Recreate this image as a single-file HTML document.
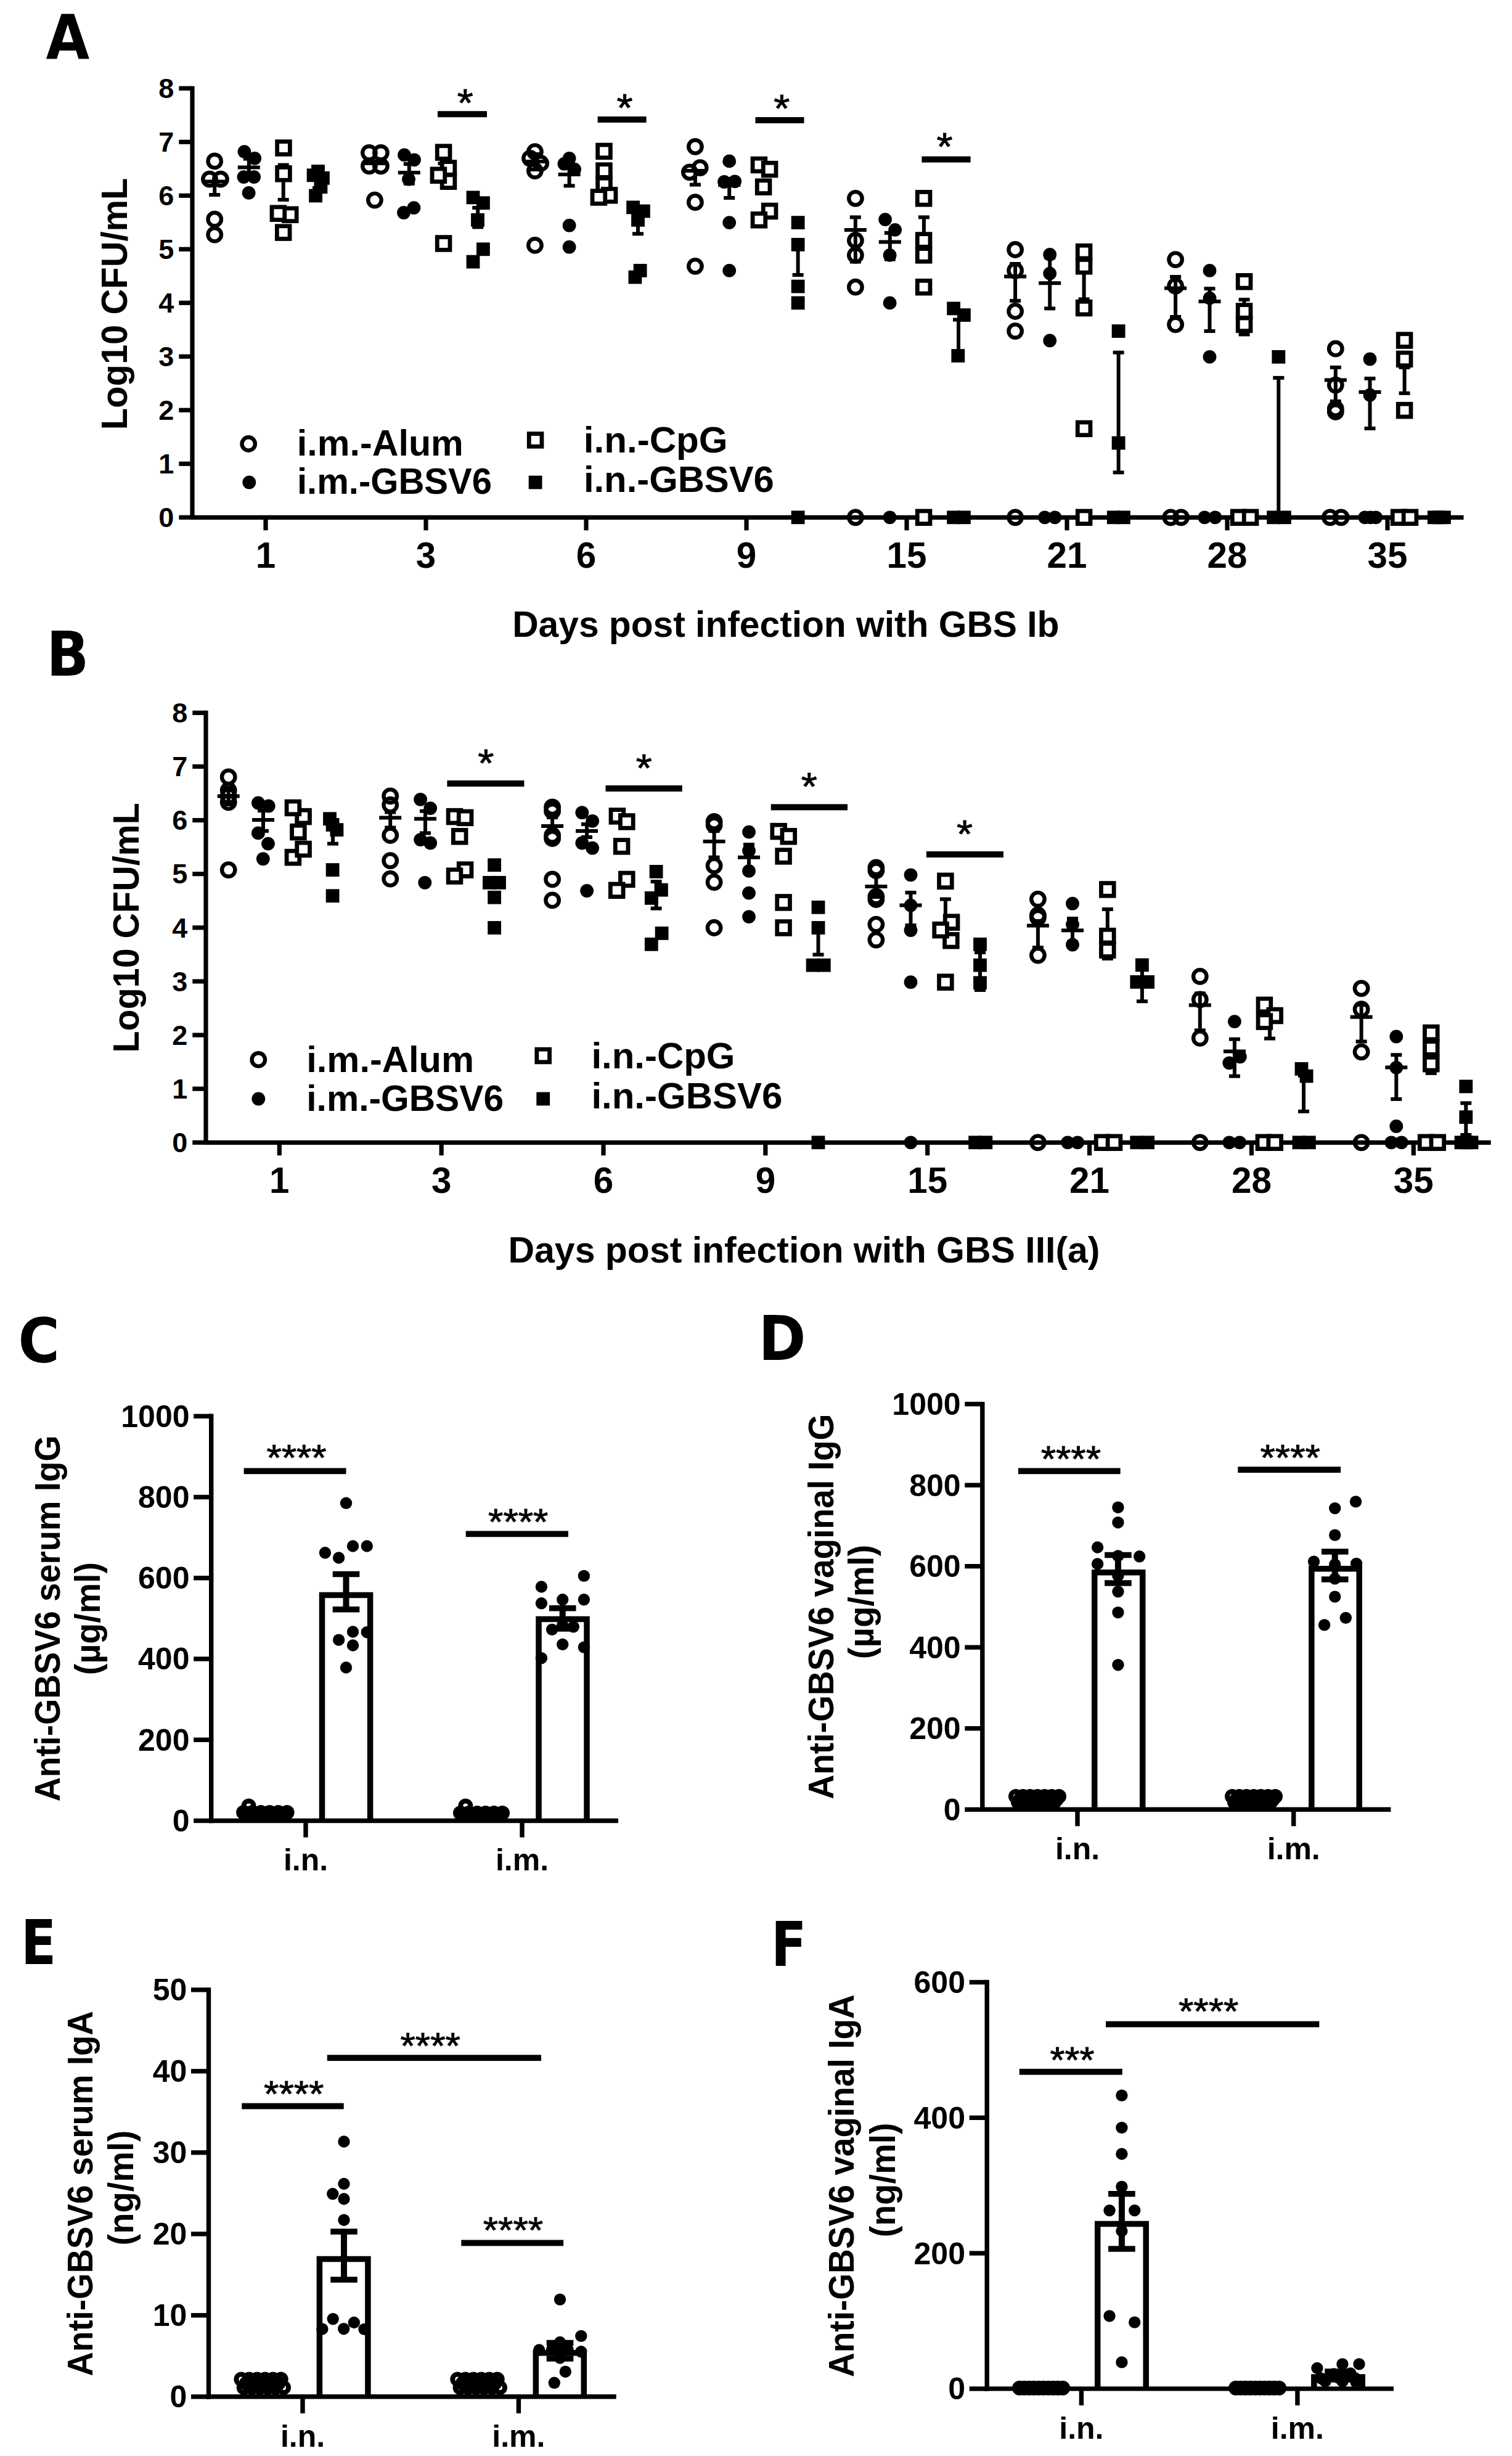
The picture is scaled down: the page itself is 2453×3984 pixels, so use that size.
<!DOCTYPE html>
<html lang="en"><head><meta charset="utf-8"><title>Figure</title>
<style>html,body{margin:0;padding:0;background:#fff}svg text{fill:#000}</style></head>
<body>
<svg width="2453" height="3984" viewBox="0 0 2453 3984" style="display:block">
<rect x="0" y="0" width="2453" height="3984" fill="#fff"/>
<line x1="312.00" y1="139.70" x2="312.00" y2="842.90" stroke="#000" stroke-width="7.2" />
<line x1="308.40" y1="839.30" x2="2374.50" y2="839.30" stroke="#000" stroke-width="7.2" />
<line x1="290.30" y1="839.30" x2="312.00" y2="839.30" stroke="#000" stroke-width="7.2" />
<text x="282.40" y="855.10" font-size="45.00" text-anchor="end" font-family="Liberation Sans, Arial, Helvetica, sans-serif" font-weight="bold" >0</text>
<line x1="290.30" y1="752.30" x2="312.00" y2="752.30" stroke="#000" stroke-width="7.2" />
<text x="282.40" y="768.10" font-size="45.00" text-anchor="end" font-family="Liberation Sans, Arial, Helvetica, sans-serif" font-weight="bold" >1</text>
<line x1="290.30" y1="665.30" x2="312.00" y2="665.30" stroke="#000" stroke-width="7.2" />
<text x="282.40" y="681.10" font-size="45.00" text-anchor="end" font-family="Liberation Sans, Arial, Helvetica, sans-serif" font-weight="bold" >2</text>
<line x1="290.30" y1="578.30" x2="312.00" y2="578.30" stroke="#000" stroke-width="7.2" />
<text x="282.40" y="594.10" font-size="45.00" text-anchor="end" font-family="Liberation Sans, Arial, Helvetica, sans-serif" font-weight="bold" >3</text>
<line x1="290.30" y1="491.30" x2="312.00" y2="491.30" stroke="#000" stroke-width="7.2" />
<text x="282.40" y="507.10" font-size="45.00" text-anchor="end" font-family="Liberation Sans, Arial, Helvetica, sans-serif" font-weight="bold" >4</text>
<line x1="290.30" y1="404.30" x2="312.00" y2="404.30" stroke="#000" stroke-width="7.2" />
<text x="282.40" y="420.10" font-size="45.00" text-anchor="end" font-family="Liberation Sans, Arial, Helvetica, sans-serif" font-weight="bold" >5</text>
<line x1="290.30" y1="317.30" x2="312.00" y2="317.30" stroke="#000" stroke-width="7.2" />
<text x="282.40" y="333.10" font-size="45.00" text-anchor="end" font-family="Liberation Sans, Arial, Helvetica, sans-serif" font-weight="bold" >6</text>
<line x1="290.30" y1="230.30" x2="312.00" y2="230.30" stroke="#000" stroke-width="7.2" />
<text x="282.40" y="246.10" font-size="45.00" text-anchor="end" font-family="Liberation Sans, Arial, Helvetica, sans-serif" font-weight="bold" >7</text>
<line x1="290.30" y1="143.30" x2="312.00" y2="143.30" stroke="#000" stroke-width="7.2" />
<text x="282.40" y="159.10" font-size="45.00" text-anchor="end" font-family="Liberation Sans, Arial, Helvetica, sans-serif" font-weight="bold" >8</text>
<line x1="431.00" y1="839.30" x2="431.00" y2="860.30" stroke="#000" stroke-width="7.2" />
<text x="431.00" y="921.20" font-size="58.30" text-anchor="middle" font-family="Liberation Sans, Arial, Helvetica, sans-serif" font-weight="bold" >1</text>
<line x1="691.00" y1="839.30" x2="691.00" y2="860.30" stroke="#000" stroke-width="7.2" />
<text x="691.00" y="921.20" font-size="58.30" text-anchor="middle" font-family="Liberation Sans, Arial, Helvetica, sans-serif" font-weight="bold" >3</text>
<line x1="951.00" y1="839.30" x2="951.00" y2="860.30" stroke="#000" stroke-width="7.2" />
<text x="951.00" y="921.20" font-size="58.30" text-anchor="middle" font-family="Liberation Sans, Arial, Helvetica, sans-serif" font-weight="bold" >6</text>
<line x1="1211.00" y1="839.30" x2="1211.00" y2="860.30" stroke="#000" stroke-width="7.2" />
<text x="1211.00" y="921.20" font-size="58.30" text-anchor="middle" font-family="Liberation Sans, Arial, Helvetica, sans-serif" font-weight="bold" >9</text>
<line x1="1471.00" y1="839.30" x2="1471.00" y2="860.30" stroke="#000" stroke-width="7.2" />
<text x="1471.00" y="921.20" font-size="58.30" text-anchor="middle" font-family="Liberation Sans, Arial, Helvetica, sans-serif" font-weight="bold" >15</text>
<line x1="1731.00" y1="839.30" x2="1731.00" y2="860.30" stroke="#000" stroke-width="7.2" />
<text x="1731.00" y="921.20" font-size="58.30" text-anchor="middle" font-family="Liberation Sans, Arial, Helvetica, sans-serif" font-weight="bold" >21</text>
<line x1="1991.00" y1="839.30" x2="1991.00" y2="860.30" stroke="#000" stroke-width="7.2" />
<text x="1991.00" y="921.20" font-size="58.30" text-anchor="middle" font-family="Liberation Sans, Arial, Helvetica, sans-serif" font-weight="bold" >28</text>
<line x1="2251.00" y1="839.30" x2="2251.00" y2="860.30" stroke="#000" stroke-width="7.2" />
<text x="2251.00" y="921.20" font-size="58.30" text-anchor="middle" font-family="Liberation Sans, Arial, Helvetica, sans-serif" font-weight="bold" >35</text>
<text transform="translate(205.70,697.27) rotate(-90)" x="0" y="0" font-size="58.50" textLength="408.75" lengthAdjust="spacingAndGlyphs" font-family="Liberation Sans, Arial, Helvetica, sans-serif" font-weight="bold">Log10 CFU/mL</text>
<text x="831.18" y="1033.20" font-size="58.80" textLength="887.32" lengthAdjust="spacingAndGlyphs" font-family="Liberation Sans, Arial, Helvetica, sans-serif" font-weight="bold" >Days post infection with GBS Ib</text>
<line x1="348.20" y1="294.50" x2="348.20" y2="316.00" stroke="#000" stroke-width="6" />
<line x1="339.20" y1="316.00" x2="357.20" y2="316.00" stroke="#000" stroke-width="6" />
<line x1="330.20" y1="294.50" x2="366.20" y2="294.50" stroke="#000" stroke-width="6" />
<line x1="403.80" y1="257.60" x2="403.80" y2="285.00" stroke="#000" stroke-width="6" />
<line x1="394.80" y1="257.60" x2="412.80" y2="257.60" stroke="#000" stroke-width="6" />
<line x1="394.80" y1="285.00" x2="412.80" y2="285.00" stroke="#000" stroke-width="6" />
<line x1="385.80" y1="271.60" x2="421.80" y2="271.60" stroke="#000" stroke-width="6" />
<line x1="459.70" y1="267.60" x2="459.70" y2="324.00" stroke="#000" stroke-width="6" />
<line x1="450.70" y1="267.60" x2="468.70" y2="267.60" stroke="#000" stroke-width="6" />
<line x1="450.70" y1="324.00" x2="468.70" y2="324.00" stroke="#000" stroke-width="6" />
<line x1="516.00" y1="285.00" x2="516.00" y2="305.00" stroke="#000" stroke-width="6" />
<line x1="507.00" y1="285.00" x2="525.00" y2="285.00" stroke="#000" stroke-width="6" />
<line x1="507.00" y1="305.00" x2="525.00" y2="305.00" stroke="#000" stroke-width="6" />
<line x1="589.90" y1="265.00" x2="625.90" y2="265.00" stroke="#000" stroke-width="6" />
<line x1="663.80" y1="266.00" x2="663.80" y2="297.80" stroke="#000" stroke-width="6" />
<line x1="654.80" y1="266.00" x2="672.80" y2="266.00" stroke="#000" stroke-width="6" />
<line x1="654.80" y1="297.80" x2="672.80" y2="297.80" stroke="#000" stroke-width="6" />
<line x1="645.80" y1="280.00" x2="681.80" y2="280.00" stroke="#000" stroke-width="6" />
<line x1="719.60" y1="265.00" x2="719.60" y2="295.00" stroke="#000" stroke-width="6" />
<line x1="710.60" y1="265.00" x2="728.60" y2="265.00" stroke="#000" stroke-width="6" />
<line x1="710.60" y1="295.00" x2="728.60" y2="295.00" stroke="#000" stroke-width="6" />
<line x1="775.20" y1="337.00" x2="775.20" y2="368.40" stroke="#000" stroke-width="6" />
<line x1="766.20" y1="337.00" x2="784.20" y2="337.00" stroke="#000" stroke-width="6" />
<line x1="766.20" y1="368.40" x2="784.20" y2="368.40" stroke="#000" stroke-width="6" />
<line x1="867.90" y1="250.00" x2="867.90" y2="275.00" stroke="#000" stroke-width="6" />
<line x1="858.90" y1="250.00" x2="876.90" y2="250.00" stroke="#000" stroke-width="6" />
<line x1="858.90" y1="275.00" x2="876.90" y2="275.00" stroke="#000" stroke-width="6" />
<line x1="849.90" y1="262.00" x2="885.90" y2="262.00" stroke="#000" stroke-width="6" />
<line x1="923.60" y1="264.00" x2="923.60" y2="301.40" stroke="#000" stroke-width="6" />
<line x1="914.60" y1="264.00" x2="932.60" y2="264.00" stroke="#000" stroke-width="6" />
<line x1="914.60" y1="301.40" x2="932.60" y2="301.40" stroke="#000" stroke-width="6" />
<line x1="905.60" y1="282.90" x2="941.60" y2="282.90" stroke="#000" stroke-width="6" />
<line x1="980.00" y1="275.00" x2="980.00" y2="305.00" stroke="#000" stroke-width="6" />
<line x1="971.00" y1="275.00" x2="989.00" y2="275.00" stroke="#000" stroke-width="6" />
<line x1="971.00" y1="305.00" x2="989.00" y2="305.00" stroke="#000" stroke-width="6" />
<line x1="1035.00" y1="336.00" x2="1035.00" y2="379.30" stroke="#000" stroke-width="6" />
<line x1="1026.00" y1="336.00" x2="1044.00" y2="336.00" stroke="#000" stroke-width="6" />
<line x1="1026.00" y1="379.30" x2="1044.00" y2="379.30" stroke="#000" stroke-width="6" />
<line x1="1127.90" y1="277.00" x2="1127.90" y2="299.60" stroke="#000" stroke-width="6" />
<line x1="1118.90" y1="299.60" x2="1136.90" y2="299.60" stroke="#000" stroke-width="6" />
<line x1="1109.90" y1="277.00" x2="1145.90" y2="277.00" stroke="#000" stroke-width="6" />
<line x1="1183.20" y1="290.00" x2="1183.20" y2="321.00" stroke="#000" stroke-width="6" />
<line x1="1174.20" y1="290.00" x2="1192.20" y2="290.00" stroke="#000" stroke-width="6" />
<line x1="1174.20" y1="321.00" x2="1192.20" y2="321.00" stroke="#000" stroke-width="6" />
<line x1="1165.20" y1="300.00" x2="1201.20" y2="300.00" stroke="#000" stroke-width="6" />
<line x1="1294.60" y1="397.00" x2="1294.60" y2="446.00" stroke="#000" stroke-width="6" />
<line x1="1285.60" y1="446.00" x2="1303.60" y2="446.00" stroke="#000" stroke-width="6" />
<line x1="1387.80" y1="352.40" x2="1387.80" y2="424.60" stroke="#000" stroke-width="6" />
<line x1="1378.80" y1="352.40" x2="1396.80" y2="352.40" stroke="#000" stroke-width="6" />
<line x1="1378.80" y1="424.60" x2="1396.80" y2="424.60" stroke="#000" stroke-width="6" />
<line x1="1369.80" y1="373.00" x2="1405.80" y2="373.00" stroke="#000" stroke-width="6" />
<line x1="1443.80" y1="377.80" x2="1443.80" y2="420.60" stroke="#000" stroke-width="6" />
<line x1="1434.80" y1="377.80" x2="1452.80" y2="377.80" stroke="#000" stroke-width="6" />
<line x1="1434.80" y1="420.60" x2="1452.80" y2="420.60" stroke="#000" stroke-width="6" />
<line x1="1425.80" y1="392.50" x2="1461.80" y2="392.50" stroke="#000" stroke-width="6" />
<line x1="1498.90" y1="352.40" x2="1498.90" y2="400.00" stroke="#000" stroke-width="6" />
<line x1="1489.90" y1="352.40" x2="1507.90" y2="352.40" stroke="#000" stroke-width="6" />
<line x1="1489.90" y1="400.00" x2="1507.90" y2="400.00" stroke="#000" stroke-width="6" />
<line x1="1555.00" y1="518.60" x2="1555.00" y2="577.00" stroke="#000" stroke-width="6" />
<line x1="1546.00" y1="518.60" x2="1564.00" y2="518.60" stroke="#000" stroke-width="6" />
<line x1="1546.00" y1="577.00" x2="1564.00" y2="577.00" stroke="#000" stroke-width="6" />
<line x1="1647.10" y1="428.00" x2="1647.10" y2="487.90" stroke="#000" stroke-width="6" />
<line x1="1638.10" y1="428.00" x2="1656.10" y2="428.00" stroke="#000" stroke-width="6" />
<line x1="1638.10" y1="487.90" x2="1656.10" y2="487.90" stroke="#000" stroke-width="6" />
<line x1="1629.10" y1="448.60" x2="1665.10" y2="448.60" stroke="#000" stroke-width="6" />
<line x1="1703.20" y1="418.00" x2="1703.20" y2="500.40" stroke="#000" stroke-width="6" />
<line x1="1694.20" y1="418.00" x2="1712.20" y2="418.00" stroke="#000" stroke-width="6" />
<line x1="1694.20" y1="500.40" x2="1712.20" y2="500.40" stroke="#000" stroke-width="6" />
<line x1="1685.20" y1="459.30" x2="1721.20" y2="459.30" stroke="#000" stroke-width="6" />
<line x1="1758.60" y1="440.00" x2="1758.60" y2="485.40" stroke="#000" stroke-width="6" />
<line x1="1749.60" y1="440.00" x2="1767.60" y2="440.00" stroke="#000" stroke-width="6" />
<line x1="1749.60" y1="485.40" x2="1767.60" y2="485.40" stroke="#000" stroke-width="6" />
<line x1="1814.60" y1="571.80" x2="1814.60" y2="766.40" stroke="#000" stroke-width="6" />
<line x1="1805.60" y1="571.80" x2="1823.60" y2="571.80" stroke="#000" stroke-width="6" />
<line x1="1805.60" y1="766.40" x2="1823.60" y2="766.40" stroke="#000" stroke-width="6" />
<line x1="1907.10" y1="449.00" x2="1907.10" y2="514.00" stroke="#000" stroke-width="6" />
<line x1="1898.10" y1="449.00" x2="1916.10" y2="449.00" stroke="#000" stroke-width="6" />
<line x1="1898.10" y1="514.00" x2="1916.10" y2="514.00" stroke="#000" stroke-width="6" />
<line x1="1889.10" y1="467.50" x2="1925.10" y2="467.50" stroke="#000" stroke-width="6" />
<line x1="1962.50" y1="468.20" x2="1962.50" y2="537.10" stroke="#000" stroke-width="6" />
<line x1="1953.50" y1="468.20" x2="1971.50" y2="468.20" stroke="#000" stroke-width="6" />
<line x1="1953.50" y1="537.10" x2="1971.50" y2="537.10" stroke="#000" stroke-width="6" />
<line x1="1944.50" y1="489.00" x2="1980.50" y2="489.00" stroke="#000" stroke-width="6" />
<line x1="2018.60" y1="486.00" x2="2018.60" y2="542.50" stroke="#000" stroke-width="6" />
<line x1="2009.60" y1="486.00" x2="2027.60" y2="486.00" stroke="#000" stroke-width="6" />
<line x1="2009.60" y1="542.50" x2="2027.60" y2="542.50" stroke="#000" stroke-width="6" />
<line x1="2074.30" y1="612.90" x2="2074.30" y2="839.30" stroke="#000" stroke-width="6" />
<line x1="2065.30" y1="612.90" x2="2083.30" y2="612.90" stroke="#000" stroke-width="6" />
<line x1="2166.80" y1="596.00" x2="2166.80" y2="651.00" stroke="#000" stroke-width="6" />
<line x1="2157.80" y1="596.00" x2="2175.80" y2="596.00" stroke="#000" stroke-width="6" />
<line x1="2157.80" y1="651.00" x2="2175.80" y2="651.00" stroke="#000" stroke-width="6" />
<line x1="2148.80" y1="616.40" x2="2184.80" y2="616.40" stroke="#000" stroke-width="6" />
<line x1="2222.50" y1="614.00" x2="2222.50" y2="695.00" stroke="#000" stroke-width="6" />
<line x1="2213.50" y1="614.00" x2="2231.50" y2="614.00" stroke="#000" stroke-width="6" />
<line x1="2213.50" y1="695.00" x2="2231.50" y2="695.00" stroke="#000" stroke-width="6" />
<line x1="2204.50" y1="636.00" x2="2240.50" y2="636.00" stroke="#000" stroke-width="6" />
<line x1="2278.60" y1="596.00" x2="2278.60" y2="637.90" stroke="#000" stroke-width="6" />
<line x1="2269.60" y1="596.00" x2="2287.60" y2="596.00" stroke="#000" stroke-width="6" />
<line x1="2269.60" y1="637.90" x2="2287.60" y2="637.90" stroke="#000" stroke-width="6" />
<circle cx="348.2" cy="261.4" r="10.7" fill="none" stroke="#000" stroke-width="6.4"/>
<circle cx="340.0" cy="290.7" r="10.7" fill="none" stroke="#000" stroke-width="6.4"/>
<circle cx="357.9" cy="290.7" r="10.7" fill="none" stroke="#000" stroke-width="6.4"/>
<circle cx="348.2" cy="355.7" r="10.7" fill="none" stroke="#000" stroke-width="6.4"/>
<circle cx="348.2" cy="380.7" r="10.7" fill="none" stroke="#000" stroke-width="6.4"/>
<circle cx="598.9" cy="247.9" r="10.7" fill="none" stroke="#000" stroke-width="6.4"/>
<circle cx="617.9" cy="247.9" r="10.7" fill="none" stroke="#000" stroke-width="6.4"/>
<circle cx="598.9" cy="269.3" r="10.7" fill="none" stroke="#000" stroke-width="6.4"/>
<circle cx="617.9" cy="269.3" r="10.7" fill="none" stroke="#000" stroke-width="6.4"/>
<circle cx="607.9" cy="324.6" r="10.7" fill="none" stroke="#000" stroke-width="6.4"/>
<circle cx="867.9" cy="246.1" r="10.7" fill="none" stroke="#000" stroke-width="6.4"/>
<circle cx="860.0" cy="256.8" r="10.7" fill="none" stroke="#000" stroke-width="6.4"/>
<circle cx="877.1" cy="265.0" r="10.7" fill="none" stroke="#000" stroke-width="6.4"/>
<circle cx="867.9" cy="277.1" r="10.7" fill="none" stroke="#000" stroke-width="6.4"/>
<circle cx="867.9" cy="397.9" r="10.7" fill="none" stroke="#000" stroke-width="6.4"/>
<circle cx="1127.9" cy="237.9" r="10.7" fill="none" stroke="#000" stroke-width="6.4"/>
<circle cx="1118.9" cy="279.3" r="10.7" fill="none" stroke="#000" stroke-width="6.4"/>
<circle cx="1135.7" cy="272.1" r="10.7" fill="none" stroke="#000" stroke-width="6.4"/>
<circle cx="1127.9" cy="328.2" r="10.7" fill="none" stroke="#000" stroke-width="6.4"/>
<circle cx="1127.9" cy="431.8" r="10.7" fill="none" stroke="#000" stroke-width="6.4"/>
<circle cx="1387.9" cy="321.8" r="10.7" fill="none" stroke="#000" stroke-width="6.4"/>
<circle cx="1387.9" cy="390.0" r="10.7" fill="none" stroke="#000" stroke-width="6.4"/>
<circle cx="1387.9" cy="413.9" r="10.7" fill="none" stroke="#000" stroke-width="6.4"/>
<circle cx="1387.9" cy="465.7" r="10.7" fill="none" stroke="#000" stroke-width="6.4"/>
<circle cx="1387.9" cy="839.3" r="10.7" fill="none" stroke="#000" stroke-width="6.4"/>
<circle cx="1647.1" cy="405.0" r="10.7" fill="none" stroke="#000" stroke-width="6.4"/>
<circle cx="1647.1" cy="438.9" r="10.7" fill="none" stroke="#000" stroke-width="6.4"/>
<circle cx="1647.1" cy="505.0" r="10.7" fill="none" stroke="#000" stroke-width="6.4"/>
<circle cx="1647.1" cy="537.1" r="10.7" fill="none" stroke="#000" stroke-width="6.4"/>
<circle cx="1647.1" cy="839.3" r="10.7" fill="none" stroke="#000" stroke-width="6.4"/>
<circle cx="1907.1" cy="421.1" r="10.7" fill="none" stroke="#000" stroke-width="6.4"/>
<circle cx="1907.1" cy="463.9" r="10.7" fill="none" stroke="#000" stroke-width="6.4"/>
<circle cx="1907.1" cy="526.4" r="10.7" fill="none" stroke="#000" stroke-width="6.4"/>
<circle cx="1899.3" cy="839.3" r="10.7" fill="none" stroke="#000" stroke-width="6.4"/>
<circle cx="1916.1" cy="839.3" r="10.7" fill="none" stroke="#000" stroke-width="6.4"/>
<circle cx="2166.8" cy="565.7" r="10.7" fill="none" stroke="#000" stroke-width="6.4"/>
<circle cx="2166.8" cy="624.6" r="10.7" fill="none" stroke="#000" stroke-width="6.4"/>
<circle cx="2166.8" cy="663.0" r="10.7" fill="none" stroke="#000" stroke-width="6.4"/>
<circle cx="2166.8" cy="668.0" r="10.7" fill="none" stroke="#000" stroke-width="6.4"/>
<circle cx="2157.9" cy="839.3" r="10.7" fill="none" stroke="#000" stroke-width="6.4"/>
<circle cx="2175.7" cy="839.3" r="10.7" fill="none" stroke="#000" stroke-width="6.4"/>
<circle cx="396.4" cy="246.1" r="10.9" fill="#000"/>
<circle cx="413.2" cy="256.8" r="10.9" fill="#000"/>
<circle cx="395.4" cy="287.1" r="10.9" fill="#000"/>
<circle cx="412.1" cy="287.1" r="10.9" fill="#000"/>
<circle cx="403.6" cy="312.9" r="10.9" fill="#000"/>
<circle cx="656.0" cy="251.4" r="10.9" fill="#000"/>
<circle cx="672.0" cy="259.3" r="10.9" fill="#000"/>
<circle cx="663.0" cy="290.7" r="10.9" fill="#000"/>
<circle cx="655.0" cy="345.0" r="10.9" fill="#000"/>
<circle cx="671.4" cy="337.1" r="10.9" fill="#000"/>
<circle cx="923.6" cy="256.8" r="10.9" fill="#000"/>
<circle cx="915.4" cy="265.7" r="10.9" fill="#000"/>
<circle cx="932.1" cy="274.6" r="10.9" fill="#000"/>
<circle cx="923.6" cy="365.7" r="10.9" fill="#000"/>
<circle cx="923.6" cy="400.7" r="10.9" fill="#000"/>
<circle cx="1183.2" cy="261.4" r="10.9" fill="#000"/>
<circle cx="1175.0" cy="295.0" r="10.9" fill="#000"/>
<circle cx="1192.1" cy="294.3" r="10.9" fill="#000"/>
<circle cx="1183.2" cy="361.1" r="10.9" fill="#000"/>
<circle cx="1183.2" cy="438.9" r="10.9" fill="#000"/>
<circle cx="1436.1" cy="356.1" r="10.9" fill="#000"/>
<circle cx="1452.1" cy="372.9" r="10.9" fill="#000"/>
<circle cx="1443.6" cy="413.9" r="10.9" fill="#000"/>
<circle cx="1443.6" cy="491.4" r="10.9" fill="#000"/>
<circle cx="1443.6" cy="839.3" r="10.9" fill="#000"/>
<circle cx="1703.2" cy="412.9" r="10.9" fill="#000"/>
<circle cx="1703.2" cy="443.6" r="10.9" fill="#000"/>
<circle cx="1703.2" cy="552.5" r="10.9" fill="#000"/>
<circle cx="1695.0" cy="839.3" r="10.9" fill="#000"/>
<circle cx="1711.4" cy="839.3" r="10.9" fill="#000"/>
<circle cx="1962.5" cy="438.9" r="10.9" fill="#000"/>
<circle cx="1962.5" cy="483.6" r="10.9" fill="#000"/>
<circle cx="1962.5" cy="578.9" r="10.9" fill="#000"/>
<circle cx="1954.3" cy="839.3" r="10.9" fill="#000"/>
<circle cx="1971.4" cy="839.3" r="10.9" fill="#000"/>
<circle cx="2222.5" cy="582.5" r="10.9" fill="#000"/>
<circle cx="2222.5" cy="640.7" r="10.9" fill="#000"/>
<circle cx="2214.3" cy="839.3" r="10.9" fill="#000"/>
<circle cx="2223.2" cy="839.3" r="10.9" fill="#000"/>
<circle cx="2232.1" cy="839.3" r="10.9" fill="#000"/>
<rect x="449.65" y="229.65" width="20.7" height="20.7" fill="#fff" stroke="#000" stroke-width="6.8"/>
<rect x="449.65" y="271.45" width="20.7" height="20.7" fill="#fff" stroke="#000" stroke-width="6.8"/>
<rect x="460.45" y="337.95" width="20.7" height="20.7" fill="#fff" stroke="#000" stroke-width="6.8"/>
<rect x="441.05" y="335.85" width="20.7" height="20.7" fill="#fff" stroke="#000" stroke-width="6.8"/>
<rect x="449.35" y="366.75" width="20.7" height="20.7" fill="#fff" stroke="#000" stroke-width="6.8"/>
<rect x="709.25" y="236.75" width="20.7" height="20.7" fill="#fff" stroke="#000" stroke-width="6.8"/>
<rect x="717.15" y="262.55" width="20.7" height="20.7" fill="#fff" stroke="#000" stroke-width="6.8"/>
<rect x="717.15" y="283.95" width="20.7" height="20.7" fill="#fff" stroke="#000" stroke-width="6.8"/>
<rect x="701.05" y="273.95" width="20.7" height="20.7" fill="#fff" stroke="#000" stroke-width="6.8"/>
<rect x="709.25" y="384.65" width="20.7" height="20.7" fill="#fff" stroke="#000" stroke-width="6.8"/>
<rect x="969.65" y="235.05" width="20.7" height="20.7" fill="#fff" stroke="#000" stroke-width="6.8"/>
<rect x="969.65" y="266.75" width="20.7" height="20.7" fill="#fff" stroke="#000" stroke-width="6.8"/>
<rect x="969.65" y="289.25" width="20.7" height="20.7" fill="#fff" stroke="#000" stroke-width="6.8"/>
<rect x="978.25" y="306.45" width="20.7" height="20.7" fill="#fff" stroke="#000" stroke-width="6.8"/>
<rect x="961.05" y="309.65" width="20.7" height="20.7" fill="#fff" stroke="#000" stroke-width="6.8"/>
<rect x="1221.05" y="257.15" width="20.7" height="20.7" fill="#fff" stroke="#000" stroke-width="6.8"/>
<rect x="1238.25" y="264.25" width="20.7" height="20.7" fill="#fff" stroke="#000" stroke-width="6.8"/>
<rect x="1228.25" y="292.85" width="20.7" height="20.7" fill="#fff" stroke="#000" stroke-width="6.8"/>
<rect x="1238.25" y="332.15" width="20.7" height="20.7" fill="#fff" stroke="#000" stroke-width="6.8"/>
<rect x="1221.05" y="346.45" width="20.7" height="20.7" fill="#fff" stroke="#000" stroke-width="6.8"/>
<rect x="1488.25" y="311.45" width="20.7" height="20.7" fill="#fff" stroke="#000" stroke-width="6.8"/>
<rect x="1488.25" y="379.65" width="20.7" height="20.7" fill="#fff" stroke="#000" stroke-width="6.8"/>
<rect x="1488.25" y="403.55" width="20.7" height="20.7" fill="#fff" stroke="#000" stroke-width="6.8"/>
<rect x="1488.25" y="455.35" width="20.7" height="20.7" fill="#fff" stroke="#000" stroke-width="6.8"/>
<rect x="1488.25" y="828.95" width="20.7" height="20.7" fill="#fff" stroke="#000" stroke-width="6.8"/>
<rect x="1748.25" y="398.25" width="20.7" height="20.7" fill="#fff" stroke="#000" stroke-width="6.8"/>
<rect x="1748.25" y="421.45" width="20.7" height="20.7" fill="#fff" stroke="#000" stroke-width="6.8"/>
<rect x="1748.25" y="489.25" width="20.7" height="20.7" fill="#fff" stroke="#000" stroke-width="6.8"/>
<rect x="1748.25" y="685.05" width="20.7" height="20.7" fill="#fff" stroke="#000" stroke-width="6.8"/>
<rect x="1748.25" y="828.95" width="20.7" height="20.7" fill="#fff" stroke="#000" stroke-width="6.8"/>
<rect x="2008.25" y="446.45" width="20.7" height="20.7" fill="#fff" stroke="#000" stroke-width="6.8"/>
<rect x="2008.25" y="494.65" width="20.7" height="20.7" fill="#fff" stroke="#000" stroke-width="6.8"/>
<rect x="2008.25" y="516.05" width="20.7" height="20.7" fill="#fff" stroke="#000" stroke-width="6.8"/>
<rect x="1999.25" y="828.95" width="20.7" height="20.7" fill="#fff" stroke="#000" stroke-width="6.8"/>
<rect x="2018.25" y="828.95" width="20.7" height="20.7" fill="#fff" stroke="#000" stroke-width="6.8"/>
<rect x="2268.25" y="541.75" width="20.7" height="20.7" fill="#fff" stroke="#000" stroke-width="6.8"/>
<rect x="2268.25" y="572.15" width="20.7" height="20.7" fill="#fff" stroke="#000" stroke-width="6.8"/>
<rect x="2268.25" y="655.35" width="20.7" height="20.7" fill="#fff" stroke="#000" stroke-width="6.8"/>
<rect x="2259.25" y="828.95" width="20.7" height="20.7" fill="#fff" stroke="#000" stroke-width="6.8"/>
<rect x="2277.15" y="828.95" width="20.7" height="20.7" fill="#fff" stroke="#000" stroke-width="6.8"/>
<rect x="497.7" y="273.4" width="21.8" height="21.8" fill="#000"/>
<rect x="513.0" y="278.0" width="21.8" height="21.8" fill="#000"/>
<rect x="505.1" y="267.1" width="21.8" height="21.8" fill="#000"/>
<rect x="509.5" y="292.3" width="21.8" height="21.8" fill="#000"/>
<rect x="501.2" y="306.6" width="21.8" height="21.8" fill="#000"/>
<rect x="756.6" y="309.5" width="21.8" height="21.8" fill="#000"/>
<rect x="773.0" y="318.4" width="21.8" height="21.8" fill="#000"/>
<rect x="764.1" y="345.9" width="21.8" height="21.8" fill="#000"/>
<rect x="773.0" y="393.4" width="21.8" height="21.8" fill="#000"/>
<rect x="756.6" y="413.7" width="21.8" height="21.8" fill="#000"/>
<rect x="1016.2" y="325.5" width="21.8" height="21.8" fill="#000"/>
<rect x="1033.0" y="331.6" width="21.8" height="21.8" fill="#000"/>
<rect x="1024.1" y="345.9" width="21.8" height="21.8" fill="#000"/>
<rect x="1027.7" y="428.0" width="21.8" height="21.8" fill="#000"/>
<rect x="1019.5" y="438.7" width="21.8" height="21.8" fill="#000"/>
<rect x="1283.7" y="350.2" width="21.8" height="21.8" fill="#000"/>
<rect x="1283.7" y="385.9" width="21.8" height="21.8" fill="#000"/>
<rect x="1283.7" y="453.7" width="21.8" height="21.8" fill="#000"/>
<rect x="1283.7" y="480.5" width="21.8" height="21.8" fill="#000"/>
<rect x="1283.7" y="828.4" width="21.8" height="21.8" fill="#000"/>
<rect x="1536.2" y="489.5" width="21.8" height="21.8" fill="#000"/>
<rect x="1553.0" y="500.2" width="21.8" height="21.8" fill="#000"/>
<rect x="1543.4" y="566.2" width="21.8" height="21.8" fill="#000"/>
<rect x="1536.2" y="828.4" width="21.8" height="21.8" fill="#000"/>
<rect x="1553.0" y="828.4" width="21.8" height="21.8" fill="#000"/>
<rect x="1803.7" y="526.2" width="21.8" height="21.8" fill="#000"/>
<rect x="1803.7" y="707.7" width="21.8" height="21.8" fill="#000"/>
<rect x="1795.9" y="828.4" width="21.8" height="21.8" fill="#000"/>
<rect x="1812.0" y="828.4" width="21.8" height="21.8" fill="#000"/>
<rect x="2063.4" y="568.0" width="21.8" height="21.8" fill="#000"/>
<rect x="2055.2" y="828.4" width="21.8" height="21.8" fill="#000"/>
<rect x="2073.0" y="828.4" width="21.8" height="21.8" fill="#000"/>
<rect x="2315.9" y="828.4" width="21.8" height="21.8" fill="#000"/>
<rect x="2332.0" y="828.4" width="21.8" height="21.8" fill="#000"/>
<rect x="2323.9" y="828.4" width="21.8" height="21.8" fill="#000"/>
<rect x="710.00" y="180.20" width="80.00" height="10.00" fill="#000"/>
<text x="741.86" y="188.30" font-size="62.50" textLength="26.02" lengthAdjust="spacingAndGlyphs" font-family="Liberation Sans, Arial, Helvetica, sans-serif" font-weight="normal" stroke="#000" stroke-width="0.9">*</text>
<rect x="969.60" y="188.90" width="79.00" height="10.00" fill="#000"/>
<text x="1000.46" y="196.40" font-size="62.50" textLength="26.02" lengthAdjust="spacingAndGlyphs" font-family="Liberation Sans, Arial, Helvetica, sans-serif" font-weight="normal" stroke="#000" stroke-width="0.9">*</text>
<rect x="1225.50" y="190.00" width="79.00" height="10.00" fill="#000"/>
<text x="1255.26" y="197.40" font-size="62.50" textLength="26.02" lengthAdjust="spacingAndGlyphs" font-family="Liberation Sans, Arial, Helvetica, sans-serif" font-weight="normal" stroke="#000" stroke-width="0.9">*</text>
<rect x="1495.40" y="253.60" width="79.20" height="10.00" fill="#000"/>
<text x="1519.56" y="259.40" font-size="62.50" textLength="26.02" lengthAdjust="spacingAndGlyphs" font-family="Liberation Sans, Arial, Helvetica, sans-serif" font-weight="normal" stroke="#000" stroke-width="0.9">*</text>
<circle cx="403.2" cy="720.0" r="10.7" fill="none" stroke="#000" stroke-width="6.4"/>
<circle cx="404.3" cy="782.5" r="10.9" fill="#000"/>
<rect x="858.25" y="703.55" width="20.7" height="20.7" fill="#fff" stroke="#000" stroke-width="6.8"/>
<rect x="857.7" y="771.6" width="21.8" height="21.8" fill="#000"/>
<text x="481.85" y="739.00" font-size="58.80" textLength="269.94" lengthAdjust="spacingAndGlyphs" font-family="Liberation Sans, Arial, Helvetica, sans-serif" font-weight="bold" >i.m.-Alum</text>
<text x="481.94" y="801.40" font-size="58.80" textLength="316.15" lengthAdjust="spacingAndGlyphs" font-family="Liberation Sans, Arial, Helvetica, sans-serif" font-weight="bold" >i.m.-GBSV6</text>
<text x="946.89" y="733.60" font-size="58.80" textLength="233.71" lengthAdjust="spacingAndGlyphs" font-family="Liberation Sans, Arial, Helvetica, sans-serif" font-weight="bold" >i.n.-CpG</text>
<text x="946.92" y="797.90" font-size="58.80" textLength="308.93" lengthAdjust="spacingAndGlyphs" font-family="Liberation Sans, Arial, Helvetica, sans-serif" font-weight="bold" >i.n.-GBSV6</text>
<text x="74.59" y="95.20" font-size="99.5" textLength="70.72" lengthAdjust="spacingAndGlyphs" font-family="DejaVu Sans Condensed, DejaVu Sans, sans-serif" font-stretch="condensed" font-weight="bold">A</text>
<line x1="334.00" y1="1152.70" x2="334.00" y2="1856.90" stroke="#000" stroke-width="7.2" />
<line x1="330.40" y1="1853.30" x2="2418.70" y2="1853.30" stroke="#000" stroke-width="7.2" />
<line x1="312.30" y1="1853.30" x2="334.00" y2="1853.30" stroke="#000" stroke-width="7.2" />
<text x="304.40" y="1869.10" font-size="45.00" text-anchor="end" font-family="Liberation Sans, Arial, Helvetica, sans-serif" font-weight="bold" >0</text>
<line x1="312.30" y1="1766.17" x2="334.00" y2="1766.17" stroke="#000" stroke-width="7.2" />
<text x="304.40" y="1781.97" font-size="45.00" text-anchor="end" font-family="Liberation Sans, Arial, Helvetica, sans-serif" font-weight="bold" >1</text>
<line x1="312.30" y1="1679.05" x2="334.00" y2="1679.05" stroke="#000" stroke-width="7.2" />
<text x="304.40" y="1694.85" font-size="45.00" text-anchor="end" font-family="Liberation Sans, Arial, Helvetica, sans-serif" font-weight="bold" >2</text>
<line x1="312.30" y1="1591.92" x2="334.00" y2="1591.92" stroke="#000" stroke-width="7.2" />
<text x="304.40" y="1607.72" font-size="45.00" text-anchor="end" font-family="Liberation Sans, Arial, Helvetica, sans-serif" font-weight="bold" >3</text>
<line x1="312.30" y1="1504.80" x2="334.00" y2="1504.80" stroke="#000" stroke-width="7.2" />
<text x="304.40" y="1520.60" font-size="45.00" text-anchor="end" font-family="Liberation Sans, Arial, Helvetica, sans-serif" font-weight="bold" >4</text>
<line x1="312.30" y1="1417.67" x2="334.00" y2="1417.67" stroke="#000" stroke-width="7.2" />
<text x="304.40" y="1433.47" font-size="45.00" text-anchor="end" font-family="Liberation Sans, Arial, Helvetica, sans-serif" font-weight="bold" >5</text>
<line x1="312.30" y1="1330.55" x2="334.00" y2="1330.55" stroke="#000" stroke-width="7.2" />
<text x="304.40" y="1346.35" font-size="45.00" text-anchor="end" font-family="Liberation Sans, Arial, Helvetica, sans-serif" font-weight="bold" >6</text>
<line x1="312.30" y1="1243.42" x2="334.00" y2="1243.42" stroke="#000" stroke-width="7.2" />
<text x="304.40" y="1259.22" font-size="45.00" text-anchor="end" font-family="Liberation Sans, Arial, Helvetica, sans-serif" font-weight="bold" >7</text>
<line x1="312.30" y1="1156.30" x2="334.00" y2="1156.30" stroke="#000" stroke-width="7.2" />
<text x="304.40" y="1172.10" font-size="45.00" text-anchor="end" font-family="Liberation Sans, Arial, Helvetica, sans-serif" font-weight="bold" >8</text>
<line x1="453.30" y1="1853.30" x2="453.30" y2="1874.30" stroke="#000" stroke-width="7.2" />
<text x="453.30" y="1935.20" font-size="58.30" text-anchor="middle" font-family="Liberation Sans, Arial, Helvetica, sans-serif" font-weight="bold" >1</text>
<line x1="716.15" y1="1853.30" x2="716.15" y2="1874.30" stroke="#000" stroke-width="7.2" />
<text x="716.15" y="1935.20" font-size="58.30" text-anchor="middle" font-family="Liberation Sans, Arial, Helvetica, sans-serif" font-weight="bold" >3</text>
<line x1="979.00" y1="1853.30" x2="979.00" y2="1874.30" stroke="#000" stroke-width="7.2" />
<text x="979.00" y="1935.20" font-size="58.30" text-anchor="middle" font-family="Liberation Sans, Arial, Helvetica, sans-serif" font-weight="bold" >6</text>
<line x1="1241.85" y1="1853.30" x2="1241.85" y2="1874.30" stroke="#000" stroke-width="7.2" />
<text x="1241.85" y="1935.20" font-size="58.30" text-anchor="middle" font-family="Liberation Sans, Arial, Helvetica, sans-serif" font-weight="bold" >9</text>
<line x1="1504.70" y1="1853.30" x2="1504.70" y2="1874.30" stroke="#000" stroke-width="7.2" />
<text x="1504.70" y="1935.20" font-size="58.30" text-anchor="middle" font-family="Liberation Sans, Arial, Helvetica, sans-serif" font-weight="bold" >15</text>
<line x1="1767.55" y1="1853.30" x2="1767.55" y2="1874.30" stroke="#000" stroke-width="7.2" />
<text x="1767.55" y="1935.20" font-size="58.30" text-anchor="middle" font-family="Liberation Sans, Arial, Helvetica, sans-serif" font-weight="bold" >21</text>
<line x1="2030.40" y1="1853.30" x2="2030.40" y2="1874.30" stroke="#000" stroke-width="7.2" />
<text x="2030.40" y="1935.20" font-size="58.30" text-anchor="middle" font-family="Liberation Sans, Arial, Helvetica, sans-serif" font-weight="bold" >28</text>
<line x1="2293.25" y1="1853.30" x2="2293.25" y2="1874.30" stroke="#000" stroke-width="7.2" />
<text x="2293.25" y="1935.20" font-size="58.30" text-anchor="middle" font-family="Liberation Sans, Arial, Helvetica, sans-serif" font-weight="bold" >35</text>
<text transform="translate(225.30,1707.53) rotate(-90)" x="0" y="0" font-size="58.50" textLength="405.30" lengthAdjust="spacingAndGlyphs" font-family="Liberation Sans, Arial, Helvetica, sans-serif" font-weight="bold">Log10 CFU/mL</text>
<text x="824.47" y="2047.70" font-size="58.80" textLength="960.06" lengthAdjust="spacingAndGlyphs" font-family="Liberation Sans, Arial, Helvetica, sans-serif" font-weight="bold" >Days post infection with GBS III(a)</text>
<line x1="370.70" y1="1278.00" x2="370.70" y2="1305.00" stroke="#000" stroke-width="6" />
<line x1="361.70" y1="1278.00" x2="379.70" y2="1278.00" stroke="#000" stroke-width="6" />
<line x1="361.70" y1="1305.00" x2="379.70" y2="1305.00" stroke="#000" stroke-width="6" />
<line x1="352.70" y1="1291.40" x2="388.70" y2="1291.40" stroke="#000" stroke-width="6" />
<line x1="427.00" y1="1315.00" x2="427.00" y2="1347.90" stroke="#000" stroke-width="6" />
<line x1="418.00" y1="1315.00" x2="436.00" y2="1315.00" stroke="#000" stroke-width="6" />
<line x1="418.00" y1="1347.90" x2="436.00" y2="1347.90" stroke="#000" stroke-width="6" />
<line x1="409.00" y1="1330.00" x2="445.00" y2="1330.00" stroke="#000" stroke-width="6" />
<line x1="540.00" y1="1330.00" x2="540.00" y2="1368.60" stroke="#000" stroke-width="6" />
<line x1="531.00" y1="1330.00" x2="549.00" y2="1330.00" stroke="#000" stroke-width="6" />
<line x1="531.00" y1="1368.60" x2="549.00" y2="1368.60" stroke="#000" stroke-width="6" />
<line x1="633.20" y1="1317.50" x2="633.20" y2="1342.50" stroke="#000" stroke-width="6" />
<line x1="624.20" y1="1317.50" x2="642.20" y2="1317.50" stroke="#000" stroke-width="6" />
<line x1="624.20" y1="1342.50" x2="642.20" y2="1342.50" stroke="#000" stroke-width="6" />
<line x1="615.20" y1="1326.40" x2="651.20" y2="1326.40" stroke="#000" stroke-width="6" />
<line x1="690.00" y1="1315.70" x2="690.00" y2="1351.40" stroke="#000" stroke-width="6" />
<line x1="681.00" y1="1315.70" x2="699.00" y2="1315.70" stroke="#000" stroke-width="6" />
<line x1="681.00" y1="1351.40" x2="699.00" y2="1351.40" stroke="#000" stroke-width="6" />
<line x1="672.00" y1="1328.20" x2="708.00" y2="1328.20" stroke="#000" stroke-width="6" />
<line x1="896.10" y1="1326.00" x2="896.10" y2="1348.00" stroke="#000" stroke-width="6" />
<line x1="887.10" y1="1326.00" x2="905.10" y2="1326.00" stroke="#000" stroke-width="6" />
<line x1="887.10" y1="1348.00" x2="905.10" y2="1348.00" stroke="#000" stroke-width="6" />
<line x1="878.10" y1="1340.00" x2="914.10" y2="1340.00" stroke="#000" stroke-width="6" />
<line x1="952.00" y1="1337.00" x2="952.00" y2="1358.00" stroke="#000" stroke-width="6" />
<line x1="943.00" y1="1337.00" x2="961.00" y2="1337.00" stroke="#000" stroke-width="6" />
<line x1="943.00" y1="1358.00" x2="961.00" y2="1358.00" stroke="#000" stroke-width="6" />
<line x1="934.00" y1="1347.90" x2="970.00" y2="1347.90" stroke="#000" stroke-width="6" />
<line x1="1064.60" y1="1430.00" x2="1064.60" y2="1473.60" stroke="#000" stroke-width="6" />
<line x1="1055.60" y1="1430.00" x2="1073.60" y2="1430.00" stroke="#000" stroke-width="6" />
<line x1="1055.60" y1="1473.60" x2="1073.60" y2="1473.60" stroke="#000" stroke-width="6" />
<line x1="1158.60" y1="1348.00" x2="1158.60" y2="1390.70" stroke="#000" stroke-width="6" />
<line x1="1149.60" y1="1348.00" x2="1167.60" y2="1348.00" stroke="#000" stroke-width="6" />
<line x1="1149.60" y1="1390.70" x2="1167.60" y2="1390.70" stroke="#000" stroke-width="6" />
<line x1="1140.60" y1="1365.00" x2="1176.60" y2="1365.00" stroke="#000" stroke-width="6" />
<line x1="1215.00" y1="1370.00" x2="1215.00" y2="1411.00" stroke="#000" stroke-width="6" />
<line x1="1206.00" y1="1370.00" x2="1224.00" y2="1370.00" stroke="#000" stroke-width="6" />
<line x1="1206.00" y1="1411.00" x2="1224.00" y2="1411.00" stroke="#000" stroke-width="6" />
<line x1="1197.00" y1="1390.70" x2="1233.00" y2="1390.70" stroke="#000" stroke-width="6" />
<line x1="1327.50" y1="1505.00" x2="1327.50" y2="1548.60" stroke="#000" stroke-width="6" />
<line x1="1318.50" y1="1548.60" x2="1336.50" y2="1548.60" stroke="#000" stroke-width="6" />
<line x1="1421.40" y1="1420.00" x2="1421.40" y2="1455.00" stroke="#000" stroke-width="6" />
<line x1="1412.40" y1="1420.00" x2="1430.40" y2="1420.00" stroke="#000" stroke-width="6" />
<line x1="1412.40" y1="1455.00" x2="1430.40" y2="1455.00" stroke="#000" stroke-width="6" />
<line x1="1403.40" y1="1437.90" x2="1439.40" y2="1437.90" stroke="#000" stroke-width="6" />
<line x1="1477.50" y1="1447.90" x2="1477.50" y2="1501.00" stroke="#000" stroke-width="6" />
<line x1="1468.50" y1="1447.90" x2="1486.50" y2="1447.90" stroke="#000" stroke-width="6" />
<line x1="1468.50" y1="1501.00" x2="1486.50" y2="1501.00" stroke="#000" stroke-width="6" />
<line x1="1459.50" y1="1468.60" x2="1495.50" y2="1468.60" stroke="#000" stroke-width="6" />
<line x1="1533.90" y1="1458.60" x2="1533.90" y2="1487.00" stroke="#000" stroke-width="6" />
<line x1="1524.90" y1="1458.60" x2="1542.90" y2="1458.60" stroke="#000" stroke-width="6" />
<line x1="1590.00" y1="1545.00" x2="1590.00" y2="1606.00" stroke="#000" stroke-width="6" />
<line x1="1581.00" y1="1545.00" x2="1599.00" y2="1545.00" stroke="#000" stroke-width="6" />
<line x1="1581.00" y1="1606.00" x2="1599.00" y2="1606.00" stroke="#000" stroke-width="6" />
<line x1="1683.90" y1="1494.00" x2="1683.90" y2="1537.00" stroke="#000" stroke-width="6" />
<line x1="1674.90" y1="1494.00" x2="1692.90" y2="1494.00" stroke="#000" stroke-width="6" />
<line x1="1674.90" y1="1537.00" x2="1692.90" y2="1537.00" stroke="#000" stroke-width="6" />
<line x1="1665.90" y1="1501.40" x2="1701.90" y2="1501.40" stroke="#000" stroke-width="6" />
<line x1="1740.00" y1="1490.00" x2="1740.00" y2="1528.00" stroke="#000" stroke-width="6" />
<line x1="1731.00" y1="1490.00" x2="1749.00" y2="1490.00" stroke="#000" stroke-width="6" />
<line x1="1731.00" y1="1528.00" x2="1749.00" y2="1528.00" stroke="#000" stroke-width="6" />
<line x1="1722.00" y1="1509.30" x2="1758.00" y2="1509.30" stroke="#000" stroke-width="6" />
<line x1="1796.80" y1="1475.00" x2="1796.80" y2="1555.00" stroke="#000" stroke-width="6" />
<line x1="1787.80" y1="1475.00" x2="1805.80" y2="1475.00" stroke="#000" stroke-width="6" />
<line x1="1787.80" y1="1555.00" x2="1805.80" y2="1555.00" stroke="#000" stroke-width="6" />
<line x1="1852.90" y1="1565.00" x2="1852.90" y2="1624.30" stroke="#000" stroke-width="6" />
<line x1="1843.90" y1="1565.00" x2="1861.90" y2="1565.00" stroke="#000" stroke-width="6" />
<line x1="1843.90" y1="1624.30" x2="1861.90" y2="1624.30" stroke="#000" stroke-width="6" />
<line x1="1946.80" y1="1611.40" x2="1946.80" y2="1671.40" stroke="#000" stroke-width="6" />
<line x1="1937.80" y1="1611.40" x2="1955.80" y2="1611.40" stroke="#000" stroke-width="6" />
<line x1="1937.80" y1="1671.40" x2="1955.80" y2="1671.40" stroke="#000" stroke-width="6" />
<line x1="1928.80" y1="1630.40" x2="1964.80" y2="1630.40" stroke="#000" stroke-width="6" />
<line x1="2002.90" y1="1685.70" x2="2002.90" y2="1745.70" stroke="#000" stroke-width="6" />
<line x1="1993.90" y1="1685.70" x2="2011.90" y2="1685.70" stroke="#000" stroke-width="6" />
<line x1="1993.90" y1="1745.70" x2="2011.90" y2="1745.70" stroke="#000" stroke-width="6" />
<line x1="1984.90" y1="1705.40" x2="2020.90" y2="1705.40" stroke="#000" stroke-width="6" />
<line x1="2060.00" y1="1650.00" x2="2060.00" y2="1684.60" stroke="#000" stroke-width="6" />
<line x1="2051.00" y1="1650.00" x2="2069.00" y2="1650.00" stroke="#000" stroke-width="6" />
<line x1="2051.00" y1="1684.60" x2="2069.00" y2="1684.60" stroke="#000" stroke-width="6" />
<line x1="2115.00" y1="1745.00" x2="2115.00" y2="1802.90" stroke="#000" stroke-width="6" />
<line x1="2106.00" y1="1745.00" x2="2124.00" y2="1745.00" stroke="#000" stroke-width="6" />
<line x1="2106.00" y1="1802.90" x2="2124.00" y2="1802.90" stroke="#000" stroke-width="6" />
<line x1="2208.60" y1="1630.00" x2="2208.60" y2="1689.50" stroke="#000" stroke-width="6" />
<line x1="2199.60" y1="1630.00" x2="2217.60" y2="1630.00" stroke="#000" stroke-width="6" />
<line x1="2199.60" y1="1689.50" x2="2217.60" y2="1689.50" stroke="#000" stroke-width="6" />
<line x1="2190.60" y1="1649.80" x2="2226.60" y2="1649.80" stroke="#000" stroke-width="6" />
<line x1="2265.30" y1="1711.20" x2="2265.30" y2="1782.90" stroke="#000" stroke-width="6" />
<line x1="2256.30" y1="1711.20" x2="2274.30" y2="1711.20" stroke="#000" stroke-width="6" />
<line x1="2256.30" y1="1782.90" x2="2274.30" y2="1782.90" stroke="#000" stroke-width="6" />
<line x1="2247.30" y1="1731.50" x2="2283.30" y2="1731.50" stroke="#000" stroke-width="6" />
<line x1="2321.80" y1="1700.00" x2="2321.80" y2="1740.90" stroke="#000" stroke-width="6" />
<line x1="2312.80" y1="1700.00" x2="2330.80" y2="1700.00" stroke="#000" stroke-width="6" />
<line x1="2312.80" y1="1740.90" x2="2330.80" y2="1740.90" stroke="#000" stroke-width="6" />
<line x1="2378.30" y1="1789.40" x2="2378.30" y2="1841.00" stroke="#000" stroke-width="6" />
<line x1="2369.30" y1="1789.40" x2="2387.30" y2="1789.40" stroke="#000" stroke-width="6" />
<line x1="2369.30" y1="1841.00" x2="2387.30" y2="1841.00" stroke="#000" stroke-width="6" />
<circle cx="370.7" cy="1260.4" r="10.7" fill="none" stroke="#000" stroke-width="6.4"/>
<circle cx="370.7" cy="1282.0" r="10.7" fill="none" stroke="#000" stroke-width="6.4"/>
<circle cx="370.7" cy="1291.4" r="10.7" fill="none" stroke="#000" stroke-width="6.4"/>
<circle cx="370.7" cy="1301.4" r="10.7" fill="none" stroke="#000" stroke-width="6.4"/>
<circle cx="370.7" cy="1411.1" r="10.7" fill="none" stroke="#000" stroke-width="6.4"/>
<circle cx="633.2" cy="1291.4" r="10.7" fill="none" stroke="#000" stroke-width="6.4"/>
<circle cx="633.2" cy="1305.7" r="10.7" fill="none" stroke="#000" stroke-width="6.4"/>
<circle cx="633.2" cy="1355.0" r="10.7" fill="none" stroke="#000" stroke-width="6.4"/>
<circle cx="633.2" cy="1396.1" r="10.7" fill="none" stroke="#000" stroke-width="6.4"/>
<circle cx="633.2" cy="1425.7" r="10.7" fill="none" stroke="#000" stroke-width="6.4"/>
<circle cx="896.1" cy="1309.3" r="10.7" fill="none" stroke="#000" stroke-width="6.4"/>
<circle cx="896.1" cy="1315.7" r="10.7" fill="none" stroke="#000" stroke-width="6.4"/>
<circle cx="896.1" cy="1355.0" r="10.7" fill="none" stroke="#000" stroke-width="6.4"/>
<circle cx="896.1" cy="1360.0" r="10.7" fill="none" stroke="#000" stroke-width="6.4"/>
<circle cx="896.1" cy="1426.4" r="10.7" fill="none" stroke="#000" stroke-width="6.4"/>
<circle cx="896.1" cy="1460.4" r="10.7" fill="none" stroke="#000" stroke-width="6.4"/>
<circle cx="1158.6" cy="1332.9" r="10.7" fill="none" stroke="#000" stroke-width="6.4"/>
<circle cx="1158.6" cy="1338.2" r="10.7" fill="none" stroke="#000" stroke-width="6.4"/>
<circle cx="1158.6" cy="1404.3" r="10.7" fill="none" stroke="#000" stroke-width="6.4"/>
<circle cx="1158.6" cy="1431.1" r="10.7" fill="none" stroke="#000" stroke-width="6.4"/>
<circle cx="1158.6" cy="1505.0" r="10.7" fill="none" stroke="#000" stroke-width="6.4"/>
<circle cx="1421.4" cy="1407.5" r="10.7" fill="none" stroke="#000" stroke-width="6.4"/>
<circle cx="1421.4" cy="1412.1" r="10.7" fill="none" stroke="#000" stroke-width="6.4"/>
<circle cx="1421.4" cy="1454.5" r="10.7" fill="none" stroke="#000" stroke-width="6.4"/>
<circle cx="1421.4" cy="1459.0" r="10.7" fill="none" stroke="#000" stroke-width="6.4"/>
<circle cx="1421.4" cy="1499.6" r="10.7" fill="none" stroke="#000" stroke-width="6.4"/>
<circle cx="1421.4" cy="1524.6" r="10.7" fill="none" stroke="#000" stroke-width="6.4"/>
<circle cx="1683.9" cy="1458.6" r="10.7" fill="none" stroke="#000" stroke-width="6.4"/>
<circle cx="1683.9" cy="1484.5" r="10.7" fill="none" stroke="#000" stroke-width="6.4"/>
<circle cx="1683.9" cy="1488.5" r="10.7" fill="none" stroke="#000" stroke-width="6.4"/>
<circle cx="1683.9" cy="1549.6" r="10.7" fill="none" stroke="#000" stroke-width="6.4"/>
<circle cx="1683.9" cy="1853.3" r="10.7" fill="none" stroke="#000" stroke-width="6.4"/>
<circle cx="1946.8" cy="1583.9" r="10.7" fill="none" stroke="#000" stroke-width="6.4"/>
<circle cx="1946.8" cy="1621.4" r="10.7" fill="none" stroke="#000" stroke-width="6.4"/>
<circle cx="1946.8" cy="1683.9" r="10.7" fill="none" stroke="#000" stroke-width="6.4"/>
<circle cx="1946.8" cy="1853.3" r="10.7" fill="none" stroke="#000" stroke-width="6.4"/>
<circle cx="2208.6" cy="1603.3" r="10.7" fill="none" stroke="#000" stroke-width="6.4"/>
<circle cx="2208.6" cy="1637.2" r="10.7" fill="none" stroke="#000" stroke-width="6.4"/>
<circle cx="2208.6" cy="1706.3" r="10.7" fill="none" stroke="#000" stroke-width="6.4"/>
<circle cx="2208.6" cy="1853.3" r="10.7" fill="none" stroke="#000" stroke-width="6.4"/>
<circle cx="418.9" cy="1302.5" r="10.9" fill="#000"/>
<circle cx="435.7" cy="1307.5" r="10.9" fill="#000"/>
<circle cx="418.9" cy="1351.4" r="10.9" fill="#000"/>
<circle cx="435.0" cy="1368.6" r="10.9" fill="#000"/>
<circle cx="426.8" cy="1393.2" r="10.9" fill="#000"/>
<circle cx="682.1" cy="1296.8" r="10.9" fill="#000"/>
<circle cx="698.2" cy="1311.1" r="10.9" fill="#000"/>
<circle cx="682.1" cy="1362.1" r="10.9" fill="#000"/>
<circle cx="698.2" cy="1367.5" r="10.9" fill="#000"/>
<circle cx="689.3" cy="1431.8" r="10.9" fill="#000"/>
<circle cx="944.3" cy="1318.2" r="10.9" fill="#000"/>
<circle cx="961.1" cy="1331.8" r="10.9" fill="#000"/>
<circle cx="944.3" cy="1367.5" r="10.9" fill="#000"/>
<circle cx="961.1" cy="1375.7" r="10.9" fill="#000"/>
<circle cx="952.1" cy="1445.0" r="10.9" fill="#000"/>
<circle cx="1215.0" cy="1349.6" r="10.9" fill="#000"/>
<circle cx="1215.0" cy="1380.0" r="10.9" fill="#000"/>
<circle cx="1215.0" cy="1412.9" r="10.9" fill="#000"/>
<circle cx="1215.0" cy="1448.6" r="10.9" fill="#000"/>
<circle cx="1215.0" cy="1487.1" r="10.9" fill="#000"/>
<circle cx="1477.5" cy="1419.3" r="10.9" fill="#000"/>
<circle cx="1477.5" cy="1468.6" r="10.9" fill="#000"/>
<circle cx="1477.5" cy="1509.0" r="10.9" fill="#000"/>
<circle cx="1477.5" cy="1593.2" r="10.9" fill="#000"/>
<circle cx="1477.5" cy="1853.3" r="10.9" fill="#000"/>
<circle cx="1740.0" cy="1465.7" r="10.9" fill="#000"/>
<circle cx="1740.0" cy="1499.6" r="10.9" fill="#000"/>
<circle cx="1740.0" cy="1532.5" r="10.9" fill="#000"/>
<circle cx="1732.1" cy="1853.3" r="10.9" fill="#000"/>
<circle cx="1748.2" cy="1853.3" r="10.9" fill="#000"/>
<circle cx="2002.9" cy="1657.1" r="10.9" fill="#000"/>
<circle cx="1994.3" cy="1724.3" r="10.9" fill="#000"/>
<circle cx="2011.8" cy="1714.3" r="10.9" fill="#000"/>
<circle cx="1994.3" cy="1853.3" r="10.9" fill="#000"/>
<circle cx="2011.1" cy="1853.3" r="10.9" fill="#000"/>
<circle cx="2265.3" cy="1681.5" r="10.9" fill="#000"/>
<circle cx="2265.3" cy="1731.8" r="10.9" fill="#000"/>
<circle cx="2265.3" cy="1827.0" r="10.9" fill="#000"/>
<circle cx="2257.2" cy="1853.3" r="10.9" fill="#000"/>
<circle cx="2273.8" cy="1853.3" r="10.9" fill="#000"/>
<rect x="481.75" y="1314.25" width="20.7" height="20.7" fill="#fff" stroke="#000" stroke-width="6.8"/>
<rect x="465.05" y="1300.05" width="20.7" height="20.7" fill="#fff" stroke="#000" stroke-width="6.8"/>
<rect x="473.55" y="1339.25" width="20.7" height="20.7" fill="#fff" stroke="#000" stroke-width="6.8"/>
<rect x="465.05" y="1380.35" width="20.7" height="20.7" fill="#fff" stroke="#000" stroke-width="6.8"/>
<rect x="481.75" y="1367.15" width="20.7" height="20.7" fill="#fff" stroke="#000" stroke-width="6.8"/>
<rect x="727.15" y="1314.25" width="20.7" height="20.7" fill="#fff" stroke="#000" stroke-width="6.8"/>
<rect x="744.25" y="1316.05" width="20.7" height="20.7" fill="#fff" stroke="#000" stroke-width="6.8"/>
<rect x="735.35" y="1346.45" width="20.7" height="20.7" fill="#fff" stroke="#000" stroke-width="6.8"/>
<rect x="744.25" y="1400.75" width="20.7" height="20.7" fill="#fff" stroke="#000" stroke-width="6.8"/>
<rect x="727.15" y="1410.75" width="20.7" height="20.7" fill="#fff" stroke="#000" stroke-width="6.8"/>
<rect x="991.05" y="1313.55" width="20.7" height="20.7" fill="#fff" stroke="#000" stroke-width="6.8"/>
<rect x="1006.45" y="1322.55" width="20.7" height="20.7" fill="#fff" stroke="#000" stroke-width="6.8"/>
<rect x="998.25" y="1362.55" width="20.7" height="20.7" fill="#fff" stroke="#000" stroke-width="6.8"/>
<rect x="1006.45" y="1416.05" width="20.7" height="20.7" fill="#fff" stroke="#000" stroke-width="6.8"/>
<rect x="990.35" y="1433.95" width="20.7" height="20.7" fill="#fff" stroke="#000" stroke-width="6.8"/>
<rect x="1252.85" y="1338.25" width="20.7" height="20.7" fill="#fff" stroke="#000" stroke-width="6.8"/>
<rect x="1268.95" y="1346.45" width="20.7" height="20.7" fill="#fff" stroke="#000" stroke-width="6.8"/>
<rect x="1260.75" y="1378.55" width="20.7" height="20.7" fill="#fff" stroke="#000" stroke-width="6.8"/>
<rect x="1260.75" y="1453.55" width="20.7" height="20.7" fill="#fff" stroke="#000" stroke-width="6.8"/>
<rect x="1260.75" y="1494.65" width="20.7" height="20.7" fill="#fff" stroke="#000" stroke-width="6.8"/>
<rect x="1523.55" y="1418.95" width="20.7" height="20.7" fill="#fff" stroke="#000" stroke-width="6.8"/>
<rect x="1533.25" y="1485.75" width="20.7" height="20.7" fill="#fff" stroke="#000" stroke-width="6.8"/>
<rect x="1532.55" y="1515.35" width="20.7" height="20.7" fill="#fff" stroke="#000" stroke-width="6.8"/>
<rect x="1515.75" y="1498.25" width="20.7" height="20.7" fill="#fff" stroke="#000" stroke-width="6.8"/>
<rect x="1523.55" y="1582.85" width="20.7" height="20.7" fill="#fff" stroke="#000" stroke-width="6.8"/>
<rect x="1786.45" y="1432.55" width="20.7" height="20.7" fill="#fff" stroke="#000" stroke-width="6.8"/>
<rect x="1786.45" y="1508.25" width="20.7" height="20.7" fill="#fff" stroke="#000" stroke-width="6.8"/>
<rect x="1786.45" y="1530.75" width="20.7" height="20.7" fill="#fff" stroke="#000" stroke-width="6.8"/>
<rect x="1778.25" y="1842.95" width="20.7" height="20.7" fill="#fff" stroke="#000" stroke-width="6.8"/>
<rect x="1797.15" y="1842.95" width="20.7" height="20.7" fill="#fff" stroke="#000" stroke-width="6.8"/>
<rect x="2041.05" y="1620.05" width="20.7" height="20.7" fill="#fff" stroke="#000" stroke-width="6.8"/>
<rect x="2057.85" y="1637.15" width="20.7" height="20.7" fill="#fff" stroke="#000" stroke-width="6.8"/>
<rect x="2041.05" y="1646.75" width="20.7" height="20.7" fill="#fff" stroke="#000" stroke-width="6.8"/>
<rect x="2040.05" y="1842.95" width="20.7" height="20.7" fill="#fff" stroke="#000" stroke-width="6.8"/>
<rect x="2057.85" y="1842.95" width="20.7" height="20.7" fill="#fff" stroke="#000" stroke-width="6.8"/>
<rect x="2311.45" y="1665.15" width="20.7" height="20.7" fill="#fff" stroke="#000" stroke-width="6.8"/>
<rect x="2311.45" y="1689.65" width="20.7" height="20.7" fill="#fff" stroke="#000" stroke-width="6.8"/>
<rect x="2311.45" y="1715.35" width="20.7" height="20.7" fill="#fff" stroke="#000" stroke-width="6.8"/>
<rect x="2303.25" y="1842.95" width="20.7" height="20.7" fill="#fff" stroke="#000" stroke-width="6.8"/>
<rect x="2321.95" y="1842.95" width="20.7" height="20.7" fill="#fff" stroke="#000" stroke-width="6.8"/>
<rect x="524.1" y="1317.3" width="21.8" height="21.8" fill="#000"/>
<rect x="535.5" y="1335.2" width="21.8" height="21.8" fill="#000"/>
<rect x="528.7" y="1327.1" width="21.8" height="21.8" fill="#000"/>
<rect x="528.7" y="1400.2" width="21.8" height="21.8" fill="#000"/>
<rect x="528.7" y="1442.3" width="21.8" height="21.8" fill="#000"/>
<rect x="791.2" y="1392.3" width="21.8" height="21.8" fill="#000"/>
<rect x="783.0" y="1420.9" width="21.8" height="21.8" fill="#000"/>
<rect x="799.1" y="1420.9" width="21.8" height="21.8" fill="#000"/>
<rect x="791.2" y="1444.8" width="21.8" height="21.8" fill="#000"/>
<rect x="791.2" y="1494.1" width="21.8" height="21.8" fill="#000"/>
<rect x="1053.7" y="1403.0" width="21.8" height="21.8" fill="#000"/>
<rect x="1062.0" y="1432.7" width="21.8" height="21.8" fill="#000"/>
<rect x="1045.9" y="1445.9" width="21.8" height="21.8" fill="#000"/>
<rect x="1062.7" y="1503.0" width="21.8" height="21.8" fill="#000"/>
<rect x="1045.9" y="1520.9" width="21.8" height="21.8" fill="#000"/>
<rect x="1316.6" y="1460.9" width="21.8" height="21.8" fill="#000"/>
<rect x="1316.6" y="1494.1" width="21.8" height="21.8" fill="#000"/>
<rect x="1307.7" y="1554.8" width="21.8" height="21.8" fill="#000"/>
<rect x="1325.9" y="1554.8" width="21.8" height="21.8" fill="#000"/>
<rect x="1316.6" y="1842.4" width="21.8" height="21.8" fill="#000"/>
<rect x="1579.1" y="1520.9" width="21.8" height="21.8" fill="#000"/>
<rect x="1579.1" y="1554.8" width="21.8" height="21.8" fill="#000"/>
<rect x="1579.1" y="1583.4" width="21.8" height="21.8" fill="#000"/>
<rect x="1571.2" y="1842.4" width="21.8" height="21.8" fill="#000"/>
<rect x="1588.4" y="1842.4" width="21.8" height="21.8" fill="#000"/>
<rect x="1842.0" y="1554.5" width="21.8" height="21.8" fill="#000"/>
<rect x="1833.4" y="1582.0" width="21.8" height="21.8" fill="#000"/>
<rect x="1851.2" y="1582.0" width="21.8" height="21.8" fill="#000"/>
<rect x="1833.4" y="1842.4" width="21.8" height="21.8" fill="#000"/>
<rect x="1851.2" y="1842.4" width="21.8" height="21.8" fill="#000"/>
<rect x="2100.6" y="1723.0" width="21.8" height="21.8" fill="#000"/>
<rect x="2108.7" y="1734.7" width="21.8" height="21.8" fill="#000"/>
<rect x="2096.6" y="1842.4" width="21.8" height="21.8" fill="#000"/>
<rect x="2112.9" y="1842.4" width="21.8" height="21.8" fill="#000"/>
<rect x="2367.4" y="1751.5" width="21.8" height="21.8" fill="#000"/>
<rect x="2367.4" y="1801.2" width="21.8" height="21.8" fill="#000"/>
<rect x="2359.6" y="1842.4" width="21.8" height="21.8" fill="#000"/>
<rect x="2376.6" y="1842.4" width="21.8" height="21.8" fill="#000"/>
<rect x="2368.1" y="1842.4" width="21.8" height="21.8" fill="#000"/>
<rect x="725.40" y="1266.00" width="125.00" height="10.00" fill="#000"/>
<text x="775.26" y="1259.40" font-size="62.50" textLength="26.02" lengthAdjust="spacingAndGlyphs" font-family="Liberation Sans, Arial, Helvetica, sans-serif" font-weight="normal" stroke="#000" stroke-width="0.9">*</text>
<rect x="982.50" y="1274.00" width="124.30" height="10.00" fill="#000"/>
<text x="1031.66" y="1266.60" font-size="62.50" textLength="26.02" lengthAdjust="spacingAndGlyphs" font-family="Liberation Sans, Arial, Helvetica, sans-serif" font-weight="normal" stroke="#000" stroke-width="0.9">*</text>
<rect x="1250.70" y="1304.40" width="124.30" height="10.00" fill="#000"/>
<text x="1299.86" y="1296.90" font-size="62.50" textLength="26.02" lengthAdjust="spacingAndGlyphs" font-family="Liberation Sans, Arial, Helvetica, sans-serif" font-weight="normal" stroke="#000" stroke-width="0.9">*</text>
<rect x="1502.90" y="1381.00" width="125.00" height="10.00" fill="#000"/>
<text x="1552.06" y="1373.70" font-size="62.50" textLength="26.02" lengthAdjust="spacingAndGlyphs" font-family="Liberation Sans, Arial, Helvetica, sans-serif" font-weight="normal" stroke="#000" stroke-width="0.9">*</text>
<circle cx="419.3" cy="1718.9" r="10.7" fill="none" stroke="#000" stroke-width="6.4"/>
<circle cx="419.3" cy="1782.5" r="10.9" fill="#000"/>
<rect x="870.85" y="1702.15" width="20.7" height="20.7" fill="#fff" stroke="#000" stroke-width="6.8"/>
<rect x="870.3" y="1771.6" width="21.8" height="21.8" fill="#000"/>
<text x="497.23" y="1739.30" font-size="58.80" textLength="271.69" lengthAdjust="spacingAndGlyphs" font-family="Liberation Sans, Arial, Helvetica, sans-serif" font-weight="bold" >i.m.-Alum</text>
<text x="497.29" y="1801.80" font-size="58.80" textLength="319.82" lengthAdjust="spacingAndGlyphs" font-family="Liberation Sans, Arial, Helvetica, sans-serif" font-weight="bold" >i.m.-GBSV6</text>
<text x="959.41" y="1732.50" font-size="58.80" textLength="232.98" lengthAdjust="spacingAndGlyphs" font-family="Liberation Sans, Arial, Helvetica, sans-serif" font-weight="bold" >i.n.-CpG</text>
<text x="959.40" y="1798.20" font-size="58.80" textLength="309.95" lengthAdjust="spacingAndGlyphs" font-family="Liberation Sans, Arial, Helvetica, sans-serif" font-weight="bold" >i.n.-GBSV6</text>
<text x="75.50" y="1095.60" font-size="99.5" textLength="68.60" lengthAdjust="spacingAndGlyphs" font-family="DejaVu Sans Condensed, DejaVu Sans, sans-serif" font-stretch="condensed" font-weight="bold">B</text>
<line x1="342.70" y1="2293.60" x2="342.70" y2="2957.20" stroke="#000" stroke-width="7.4" />
<line x1="339.00" y1="2953.50" x2="1003.00" y2="2953.50" stroke="#000" stroke-width="7.4" />
<line x1="314.20" y1="2953.50" x2="342.70" y2="2953.50" stroke="#000" stroke-width="7.4" />
<text x="307.50" y="2970.90" font-size="50.00" text-anchor="end" font-family="Liberation Sans, Arial, Helvetica, sans-serif" font-weight="bold" >0</text>
<line x1="314.20" y1="2822.26" x2="342.70" y2="2822.26" stroke="#000" stroke-width="7.4" />
<text x="307.50" y="2839.66" font-size="50.00" text-anchor="end" font-family="Liberation Sans, Arial, Helvetica, sans-serif" font-weight="bold" >200</text>
<line x1="314.20" y1="2691.02" x2="342.70" y2="2691.02" stroke="#000" stroke-width="7.4" />
<text x="307.50" y="2708.42" font-size="50.00" text-anchor="end" font-family="Liberation Sans, Arial, Helvetica, sans-serif" font-weight="bold" >400</text>
<line x1="314.20" y1="2559.78" x2="342.70" y2="2559.78" stroke="#000" stroke-width="7.4" />
<text x="307.50" y="2577.18" font-size="50.00" text-anchor="end" font-family="Liberation Sans, Arial, Helvetica, sans-serif" font-weight="bold" >600</text>
<line x1="314.20" y1="2428.54" x2="342.70" y2="2428.54" stroke="#000" stroke-width="7.4" />
<text x="307.50" y="2445.94" font-size="50.00" text-anchor="end" font-family="Liberation Sans, Arial, Helvetica, sans-serif" font-weight="bold" >800</text>
<line x1="314.20" y1="2297.30" x2="342.70" y2="2297.30" stroke="#000" stroke-width="7.4" />
<text x="307.50" y="2314.70" font-size="50.00" text-anchor="end" font-family="Liberation Sans, Arial, Helvetica, sans-serif" font-weight="bold" >1000</text>
<line x1="496.00" y1="2953.50" x2="496.00" y2="2980.50" stroke="#000" stroke-width="7.4" />
<text x="496.00" y="3034.30" font-size="50.00" text-anchor="middle" font-family="Liberation Sans, Arial, Helvetica, sans-serif" font-weight="bold" >i.n.</text>
<line x1="847.00" y1="2953.50" x2="847.00" y2="2980.50" stroke="#000" stroke-width="7.4" />
<text x="847.00" y="3034.30" font-size="50.00" text-anchor="middle" font-family="Liberation Sans, Arial, Helvetica, sans-serif" font-weight="bold" >i.m.</text>
<text transform="translate(96.50,2922.26) rotate(-90)" x="0" y="0" font-size="57.00" textLength="593.88" lengthAdjust="spacingAndGlyphs" font-family="Liberation Sans, Arial, Helvetica, sans-serif" font-weight="bold">Anti-GBSV6 serum IgG</text>
<text transform="translate(161.50,2717.18) rotate(-90)" x="0" y="0" font-size="57.00" textLength="183.14" lengthAdjust="spacingAndGlyphs" font-family="Liberation Sans, Arial, Helvetica, sans-serif" font-weight="bold">(µg/ml)</text>
<path d="M522.5,2953.5 L522.5,2587.5 L600.6,2587.5 L600.6,2953.5" fill="none" stroke="#000" stroke-width="9.5"/>
<path d="M874.0,2953.5 L874.0,2626.4 L952.0,2626.4 L952.0,2953.5" fill="none" stroke="#000" stroke-width="9.5"/>
<circle cx="395.1" cy="2940.0" r="8" fill="none" stroke="#000" stroke-width="8"/>
<circle cx="402.2" cy="2942.0" r="8" fill="none" stroke="#000" stroke-width="8"/>
<circle cx="409.2" cy="2940.0" r="8" fill="none" stroke="#000" stroke-width="8"/>
<circle cx="416.2" cy="2942.0" r="8" fill="none" stroke="#000" stroke-width="8"/>
<circle cx="423.3" cy="2940.0" r="8" fill="none" stroke="#000" stroke-width="8"/>
<circle cx="430.4" cy="2942.0" r="8" fill="none" stroke="#000" stroke-width="8"/>
<circle cx="437.4" cy="2940.0" r="8" fill="none" stroke="#000" stroke-width="8"/>
<circle cx="444.5" cy="2942.0" r="8" fill="none" stroke="#000" stroke-width="8"/>
<circle cx="451.5" cy="2940.0" r="8" fill="none" stroke="#000" stroke-width="8"/>
<circle cx="458.6" cy="2942.0" r="8" fill="none" stroke="#000" stroke-width="8"/>
<circle cx="465.6" cy="2940.0" r="8" fill="none" stroke="#000" stroke-width="8"/>
<circle cx="403.5" cy="2929.5" r="8" fill="none" stroke="#000" stroke-width="8"/>
<circle cx="747.0" cy="2941.0" r="8" fill="none" stroke="#000" stroke-width="8"/>
<circle cx="753.8" cy="2943.0" r="8" fill="none" stroke="#000" stroke-width="8"/>
<circle cx="760.6" cy="2941.0" r="8" fill="none" stroke="#000" stroke-width="8"/>
<circle cx="767.4" cy="2943.0" r="8" fill="none" stroke="#000" stroke-width="8"/>
<circle cx="774.2" cy="2941.0" r="8" fill="none" stroke="#000" stroke-width="8"/>
<circle cx="781.0" cy="2943.0" r="8" fill="none" stroke="#000" stroke-width="8"/>
<circle cx="787.8" cy="2941.0" r="8" fill="none" stroke="#000" stroke-width="8"/>
<circle cx="794.6" cy="2943.0" r="8" fill="none" stroke="#000" stroke-width="8"/>
<circle cx="801.4" cy="2941.0" r="8" fill="none" stroke="#000" stroke-width="8"/>
<circle cx="808.2" cy="2943.0" r="8" fill="none" stroke="#000" stroke-width="8"/>
<circle cx="815.0" cy="2941.0" r="8" fill="none" stroke="#000" stroke-width="8"/>
<circle cx="755.3" cy="2929.5" r="8" fill="none" stroke="#000" stroke-width="8"/>
<circle cx="561.5" cy="2438.3" r="9.7" fill="#000"/>
<circle cx="527.4" cy="2518.8" r="9.7" fill="#000"/>
<circle cx="549.6" cy="2527.0" r="9.7" fill="#000"/>
<circle cx="572.5" cy="2508.0" r="9.7" fill="#000"/>
<circle cx="595.3" cy="2508.0" r="9.7" fill="#000"/>
<circle cx="549.6" cy="2660.2" r="9.7" fill="#000"/>
<circle cx="572.5" cy="2647.0" r="9.7" fill="#000"/>
<circle cx="595.3" cy="2647.7" r="9.7" fill="#000"/>
<circle cx="572.5" cy="2669.0" r="9.7" fill="#000"/>
<circle cx="561.5" cy="2705.0" r="9.7" fill="#000"/>
<circle cx="947.4" cy="2556.4" r="9.7" fill="#000"/>
<circle cx="878.4" cy="2574.0" r="9.7" fill="#000"/>
<circle cx="878.4" cy="2600.8" r="9.7" fill="#000"/>
<circle cx="912.7" cy="2594.8" r="9.7" fill="#000"/>
<circle cx="947.4" cy="2594.8" r="9.7" fill="#000"/>
<circle cx="895.6" cy="2643.4" r="9.7" fill="#000"/>
<circle cx="912.7" cy="2636.5" r="9.7" fill="#000"/>
<circle cx="930.3" cy="2638.8" r="9.7" fill="#000"/>
<circle cx="912.7" cy="2667.5" r="9.7" fill="#000"/>
<circle cx="947.4" cy="2672.1" r="9.7" fill="#000"/>
<circle cx="878.4" cy="2689.7" r="9.7" fill="#000"/>
<line x1="561.50" y1="2553.60" x2="561.50" y2="2610.80" stroke="#000" stroke-width="10" />
<line x1="539.70" y1="2553.60" x2="583.30" y2="2553.60" stroke="#000" stroke-width="9.5" />
<line x1="539.70" y1="2610.80" x2="583.30" y2="2610.80" stroke="#000" stroke-width="9.5" />
<line x1="912.70" y1="2608.70" x2="912.70" y2="2642.00" stroke="#000" stroke-width="10" />
<line x1="890.90" y1="2608.70" x2="934.50" y2="2608.70" stroke="#000" stroke-width="9.5" />
<line x1="890.90" y1="2642.00" x2="934.50" y2="2642.00" stroke="#000" stroke-width="9.5" />
<rect x="395.60" y="2381.40" width="165.90" height="9.80" fill="#000"/>
<text x="432.40" y="2385.40" font-size="59.00" textLength="97.30" lengthAdjust="spacingAndGlyphs" font-family="Liberation Sans, Arial, Helvetica, sans-serif" font-weight="normal" stroke="#000" stroke-width="0.9">****</text>
<rect x="755.70" y="2483.40" width="166.20" height="9.80" fill="#000"/>
<text x="792.10" y="2488.80" font-size="59.00" textLength="97.30" lengthAdjust="spacingAndGlyphs" font-family="Liberation Sans, Arial, Helvetica, sans-serif" font-weight="normal" stroke="#000" stroke-width="0.9">****</text>
<text x="29.51" y="2209.70" font-size="99.5" textLength="67.30" lengthAdjust="spacingAndGlyphs" font-family="DejaVu Sans Condensed, DejaVu Sans, sans-serif" font-stretch="condensed" font-weight="bold">C</text>
<line x1="1593.80" y1="2273.90" x2="1593.80" y2="2939.00" stroke="#000" stroke-width="7.4" />
<line x1="1590.10" y1="2935.30" x2="2256.40" y2="2935.30" stroke="#000" stroke-width="7.4" />
<line x1="1565.30" y1="2935.30" x2="1593.80" y2="2935.30" stroke="#000" stroke-width="7.4" />
<text x="1558.60" y="2952.70" font-size="50.00" text-anchor="end" font-family="Liberation Sans, Arial, Helvetica, sans-serif" font-weight="bold" >0</text>
<line x1="1565.30" y1="2803.76" x2="1593.80" y2="2803.76" stroke="#000" stroke-width="7.4" />
<text x="1558.60" y="2821.16" font-size="50.00" text-anchor="end" font-family="Liberation Sans, Arial, Helvetica, sans-serif" font-weight="bold" >200</text>
<line x1="1565.30" y1="2672.22" x2="1593.80" y2="2672.22" stroke="#000" stroke-width="7.4" />
<text x="1558.60" y="2689.62" font-size="50.00" text-anchor="end" font-family="Liberation Sans, Arial, Helvetica, sans-serif" font-weight="bold" >400</text>
<line x1="1565.30" y1="2540.68" x2="1593.80" y2="2540.68" stroke="#000" stroke-width="7.4" />
<text x="1558.60" y="2558.08" font-size="50.00" text-anchor="end" font-family="Liberation Sans, Arial, Helvetica, sans-serif" font-weight="bold" >600</text>
<line x1="1565.30" y1="2409.14" x2="1593.80" y2="2409.14" stroke="#000" stroke-width="7.4" />
<text x="1558.60" y="2426.54" font-size="50.00" text-anchor="end" font-family="Liberation Sans, Arial, Helvetica, sans-serif" font-weight="bold" >800</text>
<line x1="1565.30" y1="2277.60" x2="1593.80" y2="2277.60" stroke="#000" stroke-width="7.4" />
<text x="1558.60" y="2295.00" font-size="50.00" text-anchor="end" font-family="Liberation Sans, Arial, Helvetica, sans-serif" font-weight="bold" >1000</text>
<line x1="1748.00" y1="2935.30" x2="1748.00" y2="2962.30" stroke="#000" stroke-width="7.4" />
<text x="1748.00" y="3016.10" font-size="50.00" text-anchor="middle" font-family="Liberation Sans, Arial, Helvetica, sans-serif" font-weight="bold" >i.n.</text>
<line x1="2098.70" y1="2935.30" x2="2098.70" y2="2962.30" stroke="#000" stroke-width="7.4" />
<text x="2098.70" y="3016.10" font-size="50.00" text-anchor="middle" font-family="Liberation Sans, Arial, Helvetica, sans-serif" font-weight="bold" >i.m.</text>
<text transform="translate(1351.90,2918.68) rotate(-90)" x="0" y="0" font-size="57.00" textLength="625.17" lengthAdjust="spacingAndGlyphs" font-family="Liberation Sans, Arial, Helvetica, sans-serif" font-weight="bold">Anti-GBSV6 vaginal IgG</text>
<text transform="translate(1417.00,2691.21) rotate(-90)" x="0" y="0" font-size="57.00" textLength="185.40" lengthAdjust="spacingAndGlyphs" font-family="Liberation Sans, Arial, Helvetica, sans-serif" font-weight="bold">(µg/ml)</text>
<path d="M1775.7,2935.3 L1775.7,2550.8 L1853.7,2550.8 L1853.7,2935.3" fill="none" stroke="#000" stroke-width="9.5"/>
<path d="M2127.8,2935.3 L2127.8,2544.8 L2205.2,2544.8 L2205.2,2935.3" fill="none" stroke="#000" stroke-width="9.5"/>
<circle cx="1648.0" cy="2914.0" r="8" fill="none" stroke="#000" stroke-width="8"/>
<circle cx="1651.9" cy="2923.3" r="8" fill="none" stroke="#000" stroke-width="8"/>
<circle cx="1655.8" cy="2918.5" r="8" fill="none" stroke="#000" stroke-width="8"/>
<circle cx="1659.7" cy="2914.0" r="8" fill="none" stroke="#000" stroke-width="8"/>
<circle cx="1663.6" cy="2923.3" r="8" fill="none" stroke="#000" stroke-width="8"/>
<circle cx="1667.4" cy="2918.5" r="8" fill="none" stroke="#000" stroke-width="8"/>
<circle cx="1671.3" cy="2914.0" r="8" fill="none" stroke="#000" stroke-width="8"/>
<circle cx="1675.2" cy="2923.3" r="8" fill="none" stroke="#000" stroke-width="8"/>
<circle cx="1679.1" cy="2918.5" r="8" fill="none" stroke="#000" stroke-width="8"/>
<circle cx="1683.0" cy="2914.0" r="8" fill="none" stroke="#000" stroke-width="8"/>
<circle cx="1686.9" cy="2923.3" r="8" fill="none" stroke="#000" stroke-width="8"/>
<circle cx="1690.8" cy="2918.5" r="8" fill="none" stroke="#000" stroke-width="8"/>
<circle cx="1694.7" cy="2914.0" r="8" fill="none" stroke="#000" stroke-width="8"/>
<circle cx="1698.6" cy="2923.3" r="8" fill="none" stroke="#000" stroke-width="8"/>
<circle cx="1702.4" cy="2918.5" r="8" fill="none" stroke="#000" stroke-width="8"/>
<circle cx="1706.3" cy="2914.0" r="8" fill="none" stroke="#000" stroke-width="8"/>
<circle cx="1710.2" cy="2923.3" r="8" fill="none" stroke="#000" stroke-width="8"/>
<circle cx="1714.1" cy="2918.5" r="8" fill="none" stroke="#000" stroke-width="8"/>
<circle cx="1718.0" cy="2914.0" r="8" fill="none" stroke="#000" stroke-width="8"/>
<circle cx="1999.0" cy="2914.0" r="8" fill="none" stroke="#000" stroke-width="8"/>
<circle cx="2002.9" cy="2923.3" r="8" fill="none" stroke="#000" stroke-width="8"/>
<circle cx="2006.8" cy="2918.5" r="8" fill="none" stroke="#000" stroke-width="8"/>
<circle cx="2010.7" cy="2914.0" r="8" fill="none" stroke="#000" stroke-width="8"/>
<circle cx="2014.6" cy="2923.3" r="8" fill="none" stroke="#000" stroke-width="8"/>
<circle cx="2018.4" cy="2918.5" r="8" fill="none" stroke="#000" stroke-width="8"/>
<circle cx="2022.3" cy="2914.0" r="8" fill="none" stroke="#000" stroke-width="8"/>
<circle cx="2026.2" cy="2923.3" r="8" fill="none" stroke="#000" stroke-width="8"/>
<circle cx="2030.1" cy="2918.5" r="8" fill="none" stroke="#000" stroke-width="8"/>
<circle cx="2034.0" cy="2914.0" r="8" fill="none" stroke="#000" stroke-width="8"/>
<circle cx="2037.9" cy="2923.3" r="8" fill="none" stroke="#000" stroke-width="8"/>
<circle cx="2041.8" cy="2918.5" r="8" fill="none" stroke="#000" stroke-width="8"/>
<circle cx="2045.7" cy="2914.0" r="8" fill="none" stroke="#000" stroke-width="8"/>
<circle cx="2049.6" cy="2923.3" r="8" fill="none" stroke="#000" stroke-width="8"/>
<circle cx="2053.4" cy="2918.5" r="8" fill="none" stroke="#000" stroke-width="8"/>
<circle cx="2057.3" cy="2914.0" r="8" fill="none" stroke="#000" stroke-width="8"/>
<circle cx="2061.2" cy="2923.3" r="8" fill="none" stroke="#000" stroke-width="8"/>
<circle cx="2065.1" cy="2918.5" r="8" fill="none" stroke="#000" stroke-width="8"/>
<circle cx="2069.0" cy="2914.0" r="8" fill="none" stroke="#000" stroke-width="8"/>
<circle cx="1813.9" cy="2445.2" r="9.7" fill="#000"/>
<circle cx="1813.9" cy="2469.7" r="9.7" fill="#000"/>
<circle cx="1780.6" cy="2510.0" r="9.7" fill="#000"/>
<circle cx="1780.6" cy="2536.9" r="9.7" fill="#000"/>
<circle cx="1848.6" cy="2524.8" r="9.7" fill="#000"/>
<circle cx="1813.9" cy="2523.9" r="9.7" fill="#000"/>
<circle cx="1813.9" cy="2556.0" r="9.7" fill="#000"/>
<circle cx="1813.9" cy="2581.8" r="9.7" fill="#000"/>
<circle cx="1813.9" cy="2615.6" r="9.7" fill="#000"/>
<circle cx="1813.9" cy="2700.7" r="9.7" fill="#000"/>
<circle cx="2199.5" cy="2435.9" r="9.7" fill="#000"/>
<circle cx="2165.7" cy="2446.6" r="9.7" fill="#000"/>
<circle cx="2165.7" cy="2490.1" r="9.7" fill="#000"/>
<circle cx="2131.5" cy="2533.1" r="9.7" fill="#000"/>
<circle cx="2200.5" cy="2536.4" r="9.7" fill="#000"/>
<circle cx="2165.7" cy="2537.8" r="9.7" fill="#000"/>
<circle cx="2165.7" cy="2560.9" r="9.7" fill="#000"/>
<circle cx="2165.7" cy="2590.1" r="9.7" fill="#000"/>
<circle cx="2183.3" cy="2624.4" r="9.7" fill="#000"/>
<circle cx="2148.6" cy="2635.9" r="9.7" fill="#000"/>
<line x1="1813.90" y1="2522.50" x2="1813.90" y2="2567.90" stroke="#000" stroke-width="10" />
<line x1="1792.10" y1="2522.50" x2="1835.70" y2="2522.50" stroke="#000" stroke-width="9.5" />
<line x1="1792.10" y1="2567.90" x2="1835.70" y2="2567.90" stroke="#000" stroke-width="9.5" />
<line x1="2165.70" y1="2516.90" x2="2165.70" y2="2561.90" stroke="#000" stroke-width="10" />
<line x1="2143.90" y1="2516.90" x2="2187.50" y2="2516.90" stroke="#000" stroke-width="9.5" />
<line x1="2143.90" y1="2561.90" x2="2187.50" y2="2561.90" stroke="#000" stroke-width="9.5" />
<rect x="1651.90" y="2381.40" width="165.70" height="9.80" fill="#000"/>
<text x="1688.70" y="2386.70" font-size="59.00" textLength="97.30" lengthAdjust="spacingAndGlyphs" font-family="Liberation Sans, Arial, Helvetica, sans-serif" font-weight="normal" stroke="#000" stroke-width="0.9">****</text>
<rect x="2008.30" y="2379.20" width="166.70" height="9.80" fill="#000"/>
<text x="2044.50" y="2385.00" font-size="59.00" textLength="97.30" lengthAdjust="spacingAndGlyphs" font-family="Liberation Sans, Arial, Helvetica, sans-serif" font-weight="normal" stroke="#000" stroke-width="0.9">****</text>
<text x="1230.44" y="2205.50" font-size="99.5" textLength="77.00" lengthAdjust="spacingAndGlyphs" font-family="DejaVu Sans Condensed, DejaVu Sans, sans-serif" font-stretch="condensed" font-weight="bold">D</text>
<line x1="338.50" y1="3224.10" x2="338.50" y2="3891.50" stroke="#000" stroke-width="7.4" />
<line x1="334.80" y1="3887.80" x2="999.70" y2="3887.80" stroke="#000" stroke-width="7.4" />
<line x1="310.00" y1="3887.80" x2="338.50" y2="3887.80" stroke="#000" stroke-width="7.4" />
<text x="303.30" y="3905.20" font-size="50.00" text-anchor="end" font-family="Liberation Sans, Arial, Helvetica, sans-serif" font-weight="bold" >0</text>
<line x1="310.00" y1="3755.80" x2="338.50" y2="3755.80" stroke="#000" stroke-width="7.4" />
<text x="303.30" y="3773.20" font-size="50.00" text-anchor="end" font-family="Liberation Sans, Arial, Helvetica, sans-serif" font-weight="bold" >10</text>
<line x1="310.00" y1="3623.80" x2="338.50" y2="3623.80" stroke="#000" stroke-width="7.4" />
<text x="303.30" y="3641.20" font-size="50.00" text-anchor="end" font-family="Liberation Sans, Arial, Helvetica, sans-serif" font-weight="bold" >20</text>
<line x1="310.00" y1="3491.80" x2="338.50" y2="3491.80" stroke="#000" stroke-width="7.4" />
<text x="303.30" y="3509.20" font-size="50.00" text-anchor="end" font-family="Liberation Sans, Arial, Helvetica, sans-serif" font-weight="bold" >30</text>
<line x1="310.00" y1="3359.80" x2="338.50" y2="3359.80" stroke="#000" stroke-width="7.4" />
<text x="303.30" y="3377.20" font-size="50.00" text-anchor="end" font-family="Liberation Sans, Arial, Helvetica, sans-serif" font-weight="bold" >40</text>
<line x1="310.00" y1="3227.80" x2="338.50" y2="3227.80" stroke="#000" stroke-width="7.4" />
<text x="303.30" y="3245.20" font-size="50.00" text-anchor="end" font-family="Liberation Sans, Arial, Helvetica, sans-serif" font-weight="bold" >50</text>
<line x1="491.00" y1="3887.80" x2="491.00" y2="3914.80" stroke="#000" stroke-width="7.4" />
<text x="491.00" y="3968.60" font-size="50.00" text-anchor="middle" font-family="Liberation Sans, Arial, Helvetica, sans-serif" font-weight="bold" >i.n.</text>
<line x1="841.40" y1="3887.80" x2="841.40" y2="3914.80" stroke="#000" stroke-width="7.4" />
<text x="841.40" y="3968.60" font-size="50.00" text-anchor="middle" font-family="Liberation Sans, Arial, Helvetica, sans-serif" font-weight="bold" >i.m.</text>
<text transform="translate(149.60,3854.47) rotate(-90)" x="0" y="0" font-size="57.00" textLength="592.34" lengthAdjust="spacingAndGlyphs" font-family="Liberation Sans, Arial, Helvetica, sans-serif" font-weight="bold">Anti-GBSV6 serum IgA</text>
<text transform="translate(215.80,3642.50) rotate(-90)" x="0" y="0" font-size="57.00" textLength="186.87" lengthAdjust="spacingAndGlyphs" font-family="Liberation Sans, Arial, Helvetica, sans-serif" font-weight="bold">(ng/ml)</text>
<path d="M518.4,3887.8 L518.4,3664.5 L596.9,3664.5 L596.9,3887.8" fill="none" stroke="#000" stroke-width="9.5"/>
<path d="M869.3,3887.8 L869.3,3816.7 L947.3,3816.7 L947.3,3887.8" fill="none" stroke="#000" stroke-width="9.5"/>
<circle cx="391.4" cy="3859.5" r="8" fill="none" stroke="#000" stroke-width="8"/>
<circle cx="395.7" cy="3873.0" r="8" fill="none" stroke="#000" stroke-width="8"/>
<circle cx="400.0" cy="3866.0" r="8" fill="none" stroke="#000" stroke-width="8"/>
<circle cx="404.3" cy="3859.5" r="8" fill="none" stroke="#000" stroke-width="8"/>
<circle cx="408.5" cy="3873.0" r="8" fill="none" stroke="#000" stroke-width="8"/>
<circle cx="412.8" cy="3866.0" r="8" fill="none" stroke="#000" stroke-width="8"/>
<circle cx="417.1" cy="3859.5" r="8" fill="none" stroke="#000" stroke-width="8"/>
<circle cx="421.4" cy="3873.0" r="8" fill="none" stroke="#000" stroke-width="8"/>
<circle cx="425.7" cy="3866.0" r="8" fill="none" stroke="#000" stroke-width="8"/>
<circle cx="430.0" cy="3859.5" r="8" fill="none" stroke="#000" stroke-width="8"/>
<circle cx="434.3" cy="3873.0" r="8" fill="none" stroke="#000" stroke-width="8"/>
<circle cx="438.6" cy="3866.0" r="8" fill="none" stroke="#000" stroke-width="8"/>
<circle cx="442.9" cy="3859.5" r="8" fill="none" stroke="#000" stroke-width="8"/>
<circle cx="447.1" cy="3873.0" r="8" fill="none" stroke="#000" stroke-width="8"/>
<circle cx="451.4" cy="3866.0" r="8" fill="none" stroke="#000" stroke-width="8"/>
<circle cx="455.7" cy="3859.5" r="8" fill="none" stroke="#000" stroke-width="8"/>
<circle cx="460.0" cy="3873.0" r="8" fill="none" stroke="#000" stroke-width="8"/>
<circle cx="742.3" cy="3859.5" r="8" fill="none" stroke="#000" stroke-width="8"/>
<circle cx="746.6" cy="3873.0" r="8" fill="none" stroke="#000" stroke-width="8"/>
<circle cx="750.9" cy="3866.0" r="8" fill="none" stroke="#000" stroke-width="8"/>
<circle cx="755.2" cy="3859.5" r="8" fill="none" stroke="#000" stroke-width="8"/>
<circle cx="759.5" cy="3873.0" r="8" fill="none" stroke="#000" stroke-width="8"/>
<circle cx="763.8" cy="3866.0" r="8" fill="none" stroke="#000" stroke-width="8"/>
<circle cx="768.1" cy="3859.5" r="8" fill="none" stroke="#000" stroke-width="8"/>
<circle cx="772.4" cy="3873.0" r="8" fill="none" stroke="#000" stroke-width="8"/>
<circle cx="776.6" cy="3866.0" r="8" fill="none" stroke="#000" stroke-width="8"/>
<circle cx="780.9" cy="3859.5" r="8" fill="none" stroke="#000" stroke-width="8"/>
<circle cx="785.2" cy="3873.0" r="8" fill="none" stroke="#000" stroke-width="8"/>
<circle cx="789.5" cy="3866.0" r="8" fill="none" stroke="#000" stroke-width="8"/>
<circle cx="793.8" cy="3859.5" r="8" fill="none" stroke="#000" stroke-width="8"/>
<circle cx="798.1" cy="3873.0" r="8" fill="none" stroke="#000" stroke-width="8"/>
<circle cx="802.4" cy="3866.0" r="8" fill="none" stroke="#000" stroke-width="8"/>
<circle cx="806.7" cy="3859.5" r="8" fill="none" stroke="#000" stroke-width="8"/>
<circle cx="811.0" cy="3873.0" r="8" fill="none" stroke="#000" stroke-width="8"/>
<circle cx="558.0" cy="3474.0" r="9.7" fill="#000"/>
<circle cx="558.0" cy="3542.5" r="9.7" fill="#000"/>
<circle cx="539.8" cy="3558.8" r="9.7" fill="#000"/>
<circle cx="558.0" cy="3567.0" r="9.7" fill="#000"/>
<circle cx="558.0" cy="3601.2" r="9.7" fill="#000"/>
<circle cx="540.2" cy="3761.6" r="9.7" fill="#000"/>
<circle cx="574.4" cy="3767.5" r="9.7" fill="#000"/>
<circle cx="522.9" cy="3778.0" r="9.7" fill="#000"/>
<circle cx="557.7" cy="3777.7" r="9.7" fill="#000"/>
<circle cx="591.0" cy="3778.4" r="9.7" fill="#000"/>
<circle cx="908.5" cy="3730.1" r="9.7" fill="#000"/>
<circle cx="942.8" cy="3789.4" r="9.7" fill="#000"/>
<circle cx="908.5" cy="3799.5" r="9.7" fill="#000"/>
<circle cx="874.7" cy="3812.0" r="9.7" fill="#000"/>
<circle cx="942.8" cy="3814.8" r="9.7" fill="#000"/>
<circle cx="895.6" cy="3811.0" r="9.7" fill="#000"/>
<circle cx="921.0" cy="3811.0" r="9.7" fill="#000"/>
<circle cx="908.5" cy="3825.0" r="9.7" fill="#000"/>
<circle cx="917.3" cy="3847.2" r="9.7" fill="#000"/>
<circle cx="899.3" cy="3865.3" r="9.7" fill="#000"/>
<line x1="558.00" y1="3620.00" x2="558.00" y2="3698.00" stroke="#000" stroke-width="10" />
<line x1="536.20" y1="3620.00" x2="579.80" y2="3620.00" stroke="#000" stroke-width="9.5" />
<line x1="536.20" y1="3698.00" x2="579.80" y2="3698.00" stroke="#000" stroke-width="9.5" />
<line x1="908.50" y1="3800.50" x2="908.50" y2="3826.00" stroke="#000" stroke-width="10" />
<line x1="886.70" y1="3800.50" x2="930.30" y2="3800.50" stroke="#000" stroke-width="9.5" />
<line x1="886.70" y1="3826.00" x2="930.30" y2="3826.00" stroke="#000" stroke-width="9.5" />
<rect x="392.30" y="3411.60" width="165.40" height="9.80" fill="#000"/>
<text x="428.10" y="3416.80" font-size="59.00" textLength="97.30" lengthAdjust="spacingAndGlyphs" font-family="Liberation Sans, Arial, Helvetica, sans-serif" font-weight="normal" stroke="#000" stroke-width="0.9">****</text>
<rect x="530.80" y="3333.30" width="347.20" height="9.80" fill="#000"/>
<text x="649.50" y="3338.90" font-size="59.00" textLength="97.30" lengthAdjust="spacingAndGlyphs" font-family="Liberation Sans, Arial, Helvetica, sans-serif" font-weight="normal" stroke="#000" stroke-width="0.9">****</text>
<rect x="748.30" y="3633.50" width="165.80" height="9.80" fill="#000"/>
<text x="783.80" y="3638.00" font-size="59.00" textLength="97.30" lengthAdjust="spacingAndGlyphs" font-family="Liberation Sans, Arial, Helvetica, sans-serif" font-weight="normal" stroke="#000" stroke-width="0.9">****</text>
<text x="33.99" y="3186.20" font-size="99.5" textLength="57.14" lengthAdjust="spacingAndGlyphs" font-family="DejaVu Sans Condensed, DejaVu Sans, sans-serif" font-stretch="condensed" font-weight="bold">E</text>
<line x1="1601.20" y1="3211.80" x2="1601.20" y2="3878.60" stroke="#000" stroke-width="7.4" />
<line x1="1597.50" y1="3874.90" x2="2261.00" y2="3874.90" stroke="#000" stroke-width="7.4" />
<line x1="1572.70" y1="3874.90" x2="1601.20" y2="3874.90" stroke="#000" stroke-width="7.4" />
<text x="1566.00" y="3892.30" font-size="50.00" text-anchor="end" font-family="Liberation Sans, Arial, Helvetica, sans-serif" font-weight="bold" >0</text>
<line x1="1572.70" y1="3655.10" x2="1601.20" y2="3655.10" stroke="#000" stroke-width="7.4" />
<text x="1566.00" y="3672.50" font-size="50.00" text-anchor="end" font-family="Liberation Sans, Arial, Helvetica, sans-serif" font-weight="bold" >200</text>
<line x1="1572.70" y1="3435.30" x2="1601.20" y2="3435.30" stroke="#000" stroke-width="7.4" />
<text x="1566.00" y="3452.70" font-size="50.00" text-anchor="end" font-family="Liberation Sans, Arial, Helvetica, sans-serif" font-weight="bold" >400</text>
<line x1="1572.70" y1="3215.50" x2="1601.20" y2="3215.50" stroke="#000" stroke-width="7.4" />
<text x="1566.00" y="3232.90" font-size="50.00" text-anchor="end" font-family="Liberation Sans, Arial, Helvetica, sans-serif" font-weight="bold" >600</text>
<line x1="1754.40" y1="3874.90" x2="1754.40" y2="3901.90" stroke="#000" stroke-width="7.4" />
<text x="1754.40" y="3955.70" font-size="50.00" text-anchor="middle" font-family="Liberation Sans, Arial, Helvetica, sans-serif" font-weight="bold" >i.n.</text>
<line x1="2104.90" y1="3874.90" x2="2104.90" y2="3901.90" stroke="#000" stroke-width="7.4" />
<text x="2104.90" y="3955.70" font-size="50.00" text-anchor="middle" font-family="Liberation Sans, Arial, Helvetica, sans-serif" font-weight="bold" >i.m.</text>
<text transform="translate(1385.00,3856.08) rotate(-90)" x="0" y="0" font-size="57.00" textLength="620.90" lengthAdjust="spacingAndGlyphs" font-family="Liberation Sans, Arial, Helvetica, sans-serif" font-weight="bold">Anti-GBSV6 vaginal IgA</text>
<text transform="translate(1451.50,3629.29) rotate(-90)" x="0" y="0" font-size="57.00" textLength="185.94" lengthAdjust="spacingAndGlyphs" font-family="Liberation Sans, Arial, Helvetica, sans-serif" font-weight="bold">(ng/ml)</text>
<path d="M1780.7,3874.9 L1780.7,3607.5 L1859.2,3607.5 L1859.2,3874.9" fill="none" stroke="#000" stroke-width="9.5"/>
<path d="M2131.8,3874.9 L2131.8,3856.0 L2210.2,3856.0 L2210.2,3874.9" fill="none" stroke="#000" stroke-width="9.5"/>
<circle cx="1654.0" cy="3873.8" r="8" fill="none" stroke="#000" stroke-width="8"/>
<circle cx="1661.8" cy="3873.8" r="8" fill="none" stroke="#000" stroke-width="8"/>
<circle cx="1669.6" cy="3873.8" r="8" fill="none" stroke="#000" stroke-width="8"/>
<circle cx="1677.4" cy="3873.8" r="8" fill="none" stroke="#000" stroke-width="8"/>
<circle cx="1685.2" cy="3873.8" r="8" fill="none" stroke="#000" stroke-width="8"/>
<circle cx="1693.0" cy="3873.8" r="8" fill="none" stroke="#000" stroke-width="8"/>
<circle cx="1700.8" cy="3873.8" r="8" fill="none" stroke="#000" stroke-width="8"/>
<circle cx="1708.6" cy="3873.8" r="8" fill="none" stroke="#000" stroke-width="8"/>
<circle cx="1716.4" cy="3873.8" r="8" fill="none" stroke="#000" stroke-width="8"/>
<circle cx="1724.2" cy="3873.8" r="8" fill="none" stroke="#000" stroke-width="8"/>
<circle cx="2005.0" cy="3873.8" r="8" fill="none" stroke="#000" stroke-width="8"/>
<circle cx="2012.8" cy="3873.8" r="8" fill="none" stroke="#000" stroke-width="8"/>
<circle cx="2020.6" cy="3873.8" r="8" fill="none" stroke="#000" stroke-width="8"/>
<circle cx="2028.4" cy="3873.8" r="8" fill="none" stroke="#000" stroke-width="8"/>
<circle cx="2036.2" cy="3873.8" r="8" fill="none" stroke="#000" stroke-width="8"/>
<circle cx="2044.0" cy="3873.8" r="8" fill="none" stroke="#000" stroke-width="8"/>
<circle cx="2051.8" cy="3873.8" r="8" fill="none" stroke="#000" stroke-width="8"/>
<circle cx="2059.6" cy="3873.8" r="8" fill="none" stroke="#000" stroke-width="8"/>
<circle cx="2067.4" cy="3873.8" r="8" fill="none" stroke="#000" stroke-width="8"/>
<circle cx="2075.2" cy="3873.8" r="8" fill="none" stroke="#000" stroke-width="8"/>
<circle cx="1819.9" cy="3399.1" r="9.7" fill="#000"/>
<circle cx="1819.9" cy="3451.4" r="9.7" fill="#000"/>
<circle cx="1819.9" cy="3494.0" r="9.7" fill="#000"/>
<circle cx="1819.9" cy="3547.2" r="9.7" fill="#000"/>
<circle cx="1800.0" cy="3585.6" r="9.7" fill="#000"/>
<circle cx="1840.7" cy="3585.6" r="9.7" fill="#000"/>
<circle cx="1819.9" cy="3619.0" r="9.7" fill="#000"/>
<circle cx="1800.0" cy="3756.9" r="9.7" fill="#000"/>
<circle cx="1840.7" cy="3767.1" r="9.7" fill="#000"/>
<circle cx="1819.9" cy="3831.9" r="9.7" fill="#000"/>
<circle cx="2136.9" cy="3841.5" r="9.7" fill="#000"/>
<circle cx="2177.9" cy="3834.9" r="9.7" fill="#000"/>
<circle cx="2205.0" cy="3834.9" r="9.7" fill="#000"/>
<circle cx="2143.0" cy="3858.0" r="9.7" fill="#000"/>
<circle cx="2157.0" cy="3855.0" r="9.7" fill="#000"/>
<circle cx="2171.0" cy="3857.0" r="9.7" fill="#000"/>
<circle cx="2185.0" cy="3855.0" r="9.7" fill="#000"/>
<circle cx="2199.0" cy="3858.0" r="9.7" fill="#000"/>
<circle cx="2164.0" cy="3851.0" r="9.7" fill="#000"/>
<circle cx="2191.0" cy="3850.0" r="9.7" fill="#000"/>
<circle cx="2150.0" cy="3863.0" r="9.7" fill="#000"/>
<circle cx="2178.0" cy="3863.0" r="9.7" fill="#000"/>
<circle cx="2200.0" cy="3864.0" r="9.7" fill="#000"/>
<line x1="1819.90" y1="3558.80" x2="1819.90" y2="3648.10" stroke="#000" stroke-width="10" />
<line x1="1798.10" y1="3558.80" x2="1841.70" y2="3558.80" stroke="#000" stroke-width="9.5" />
<line x1="1798.10" y1="3648.10" x2="1841.70" y2="3648.10" stroke="#000" stroke-width="9.5" />
<line x1="2171.00" y1="3847.00" x2="2171.00" y2="3860.00" stroke="#000" stroke-width="10" />
<line x1="2149.20" y1="3847.00" x2="2192.80" y2="3847.00" stroke="#000" stroke-width="9.5" />
<line x1="2149.20" y1="3860.00" x2="2192.80" y2="3860.00" stroke="#000" stroke-width="9.5" />
<rect x="1653.80" y="3355.90" width="167.00" height="9.80" fill="#000"/>
<text x="1703.52" y="3361.70" font-size="59.00" textLength="71.80" lengthAdjust="spacingAndGlyphs" font-family="Liberation Sans, Arial, Helvetica, sans-serif" font-weight="normal" stroke="#000" stroke-width="0.9">***</text>
<rect x="1794.00" y="3278.70" width="346.30" height="9.80" fill="#000"/>
<text x="1912.00" y="3283.40" font-size="59.00" textLength="97.30" lengthAdjust="spacingAndGlyphs" font-family="Liberation Sans, Arial, Helvetica, sans-serif" font-weight="normal" stroke="#000" stroke-width="0.9">****</text>
<text x="1251.05" y="3189.20" font-size="99.5" textLength="57.45" lengthAdjust="spacingAndGlyphs" font-family="DejaVu Sans Condensed, DejaVu Sans, sans-serif" font-stretch="condensed" font-weight="bold">F</text>
</svg>
</body></html>
